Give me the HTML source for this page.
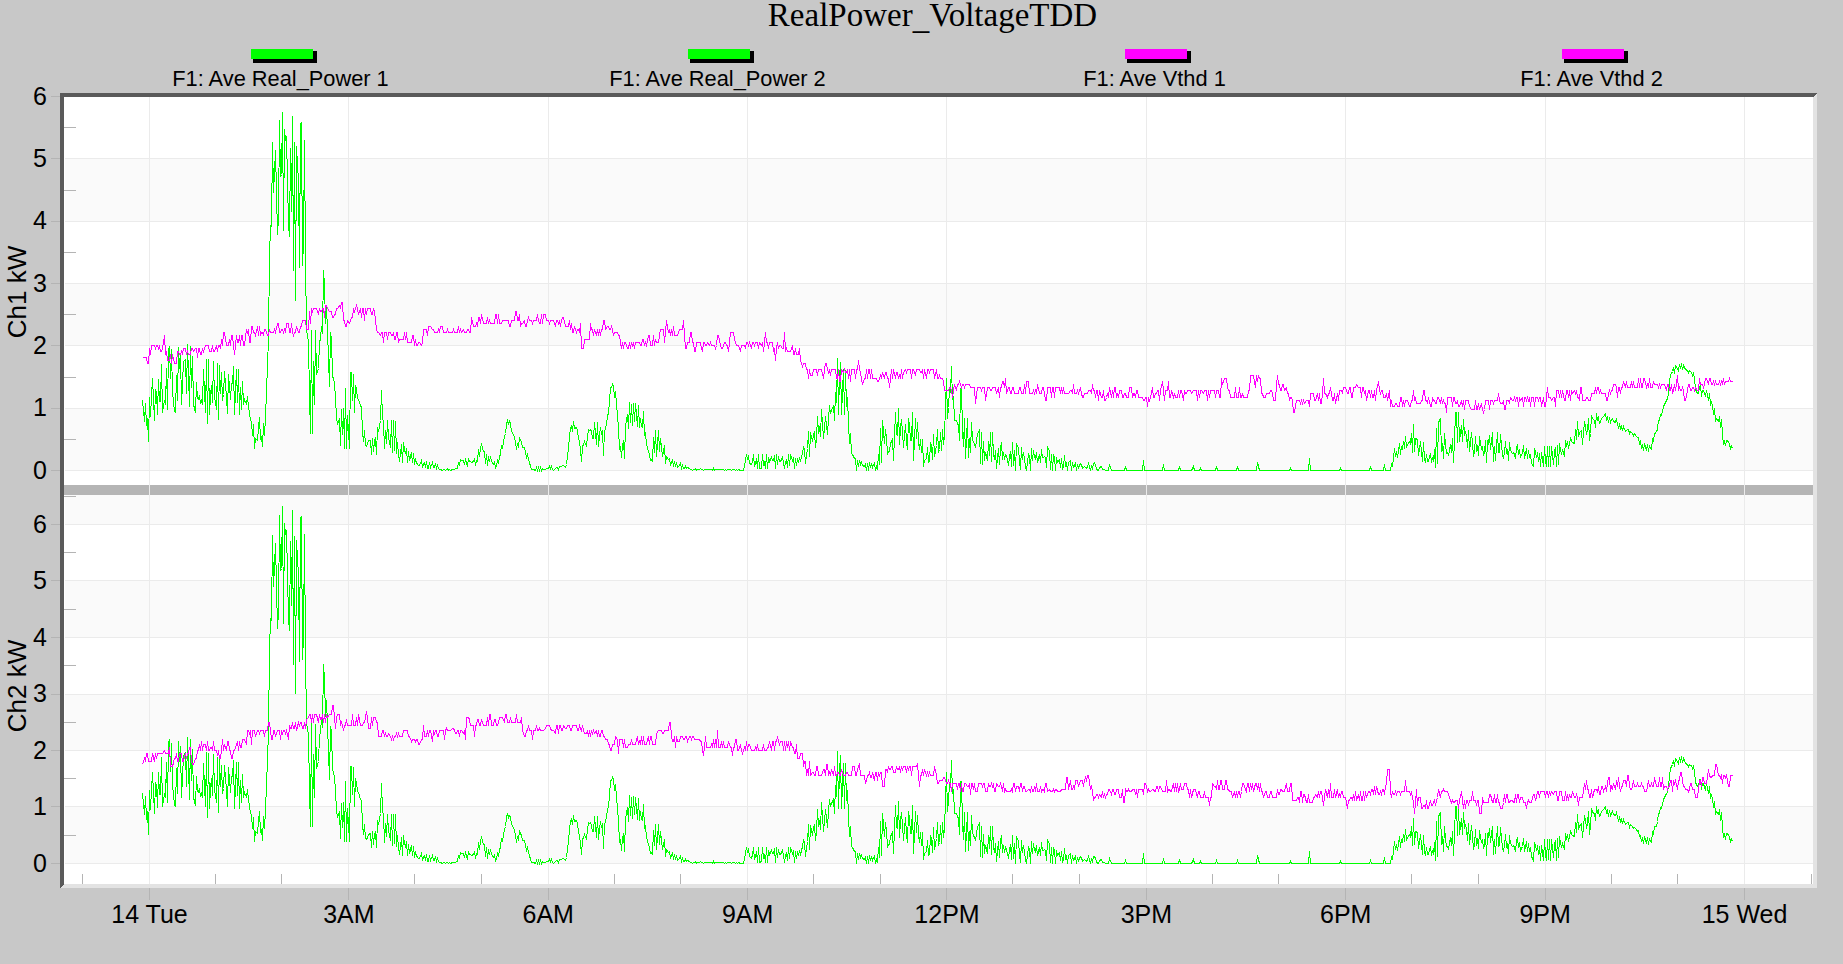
<!DOCTYPE html>
<html><head><meta charset="utf-8"><style>
html,body{margin:0;padding:0;width:1843px;height:964px;overflow:hidden;background:#c8c8c8;}
svg{position:absolute;left:0;top:0;display:block;}
</style></head><body>
<svg width="1843" height="964" viewBox="0 0 1843 964">
<g shape-rendering="crispEdges"><rect x="0" y="0" width="1843" height="964" fill="#c8c8c8"/><rect x="64" y="97" width="1749" height="787" fill="#ffffff"/><rect x="65" y="408.2" width="1748" height="62.3" fill="#fafafa"/><rect x="65" y="283.5" width="1748" height="62.3" fill="#fafafa"/><rect x="65" y="158.9" width="1748" height="62.3" fill="#fafafa"/><rect x="65" y="470" width="1748" height="1" fill="#ebebeb"/><rect x="65" y="408" width="1748" height="1" fill="#ebebeb"/><rect x="65" y="345" width="1748" height="1" fill="#ebebeb"/><rect x="65" y="283" width="1748" height="1" fill="#ebebeb"/><rect x="65" y="221" width="1748" height="1" fill="#ebebeb"/><rect x="65" y="158" width="1748" height="1" fill="#ebebeb"/><rect x="65" y="807.0" width="1748" height="56.5" fill="#fafafa"/><rect x="65" y="694.0" width="1748" height="56.5" fill="#fafafa"/><rect x="65" y="581.0" width="1748" height="56.5" fill="#fafafa"/><rect x="65" y="495.0" width="1748" height="29.5" fill="#fafafa"/><rect x="65" y="863" width="1748" height="1" fill="#ebebeb"/><rect x="65" y="806" width="1748" height="1" fill="#ebebeb"/><rect x="65" y="750" width="1748" height="1" fill="#ebebeb"/><rect x="65" y="694" width="1748" height="1" fill="#ebebeb"/><rect x="65" y="637" width="1748" height="1" fill="#ebebeb"/><rect x="65" y="580" width="1748" height="1" fill="#ebebeb"/><rect x="65" y="524" width="1748" height="1" fill="#ebebeb"/><rect x="149" y="97" width="1" height="787" fill="#ebebeb"/><rect x="348" y="97" width="1" height="787" fill="#ebebeb"/><rect x="548" y="97" width="1" height="787" fill="#ebebeb"/><rect x="747" y="97" width="1" height="787" fill="#ebebeb"/><rect x="946" y="97" width="1" height="787" fill="#ebebeb"/><rect x="1146" y="97" width="1" height="787" fill="#ebebeb"/><rect x="1345" y="97" width="1" height="787" fill="#ebebeb"/><rect x="1545" y="97" width="1" height="787" fill="#ebebeb"/><rect x="1744" y="97" width="1" height="787" fill="#ebebeb"/><rect x="64" y="485" width="1749" height="10" fill="#b5b5b5"/><rect x="149" y="485" width="1" height="10" fill="#ebebeb"/><rect x="348" y="485" width="1" height="10" fill="#ebebeb"/><rect x="548" y="485" width="1" height="10" fill="#ebebeb"/><rect x="747" y="485" width="1" height="10" fill="#ebebeb"/><rect x="946" y="485" width="1" height="10" fill="#ebebeb"/><rect x="1146" y="485" width="1" height="10" fill="#ebebeb"/><rect x="1345" y="485" width="1" height="10" fill="#ebebeb"/><rect x="1545" y="485" width="1" height="10" fill="#ebebeb"/><rect x="1744" y="485" width="1" height="10" fill="#ebebeb"/><rect x="51" y="470" width="9" height="1" fill="#b4b4b4"/><rect x="64" y="439" width="12" height="1" fill="#b4b4b4"/><rect x="51" y="408" width="9" height="1" fill="#b4b4b4"/><rect x="64" y="377" width="12" height="1" fill="#b4b4b4"/><rect x="51" y="345" width="9" height="1" fill="#b4b4b4"/><rect x="64" y="314" width="12" height="1" fill="#b4b4b4"/><rect x="51" y="283" width="9" height="1" fill="#b4b4b4"/><rect x="64" y="252" width="12" height="1" fill="#b4b4b4"/><rect x="51" y="221" width="9" height="1" fill="#b4b4b4"/><rect x="64" y="190" width="12" height="1" fill="#b4b4b4"/><rect x="51" y="158" width="9" height="1" fill="#b4b4b4"/><rect x="64" y="127" width="12" height="1" fill="#b4b4b4"/><rect x="51" y="96" width="9" height="1" fill="#b4b4b4"/><rect x="51" y="863" width="9" height="1" fill="#b4b4b4"/><rect x="64" y="835" width="12" height="1" fill="#b4b4b4"/><rect x="51" y="806" width="9" height="1" fill="#b4b4b4"/><rect x="64" y="778" width="12" height="1" fill="#b4b4b4"/><rect x="51" y="750" width="9" height="1" fill="#b4b4b4"/><rect x="64" y="722" width="12" height="1" fill="#b4b4b4"/><rect x="51" y="694" width="9" height="1" fill="#b4b4b4"/><rect x="64" y="665" width="12" height="1" fill="#b4b4b4"/><rect x="51" y="637" width="9" height="1" fill="#b4b4b4"/><rect x="64" y="609" width="12" height="1" fill="#b4b4b4"/><rect x="51" y="580" width="9" height="1" fill="#b4b4b4"/><rect x="64" y="552" width="12" height="1" fill="#b4b4b4"/><rect x="51" y="524" width="9" height="1" fill="#b4b4b4"/><rect x="64" y="496" width="12" height="1" fill="#b4b4b4"/><rect x="149" y="888" width="1" height="12" fill="#b4b4b4"/><rect x="348" y="888" width="1" height="12" fill="#b4b4b4"/><rect x="548" y="888" width="1" height="12" fill="#b4b4b4"/><rect x="747" y="888" width="1" height="12" fill="#b4b4b4"/><rect x="946" y="888" width="1" height="12" fill="#b4b4b4"/><rect x="1146" y="888" width="1" height="12" fill="#b4b4b4"/><rect x="1345" y="888" width="1" height="12" fill="#b4b4b4"/><rect x="1545" y="888" width="1" height="12" fill="#b4b4b4"/><rect x="1744" y="888" width="1" height="12" fill="#b4b4b4"/><rect x="82" y="874" width="1" height="10" fill="#b4b4b4"/><rect x="215" y="874" width="1" height="10" fill="#b4b4b4"/><rect x="281" y="874" width="1" height="10" fill="#b4b4b4"/><rect x="414" y="874" width="1" height="10" fill="#b4b4b4"/><rect x="481" y="874" width="1" height="10" fill="#b4b4b4"/><rect x="614" y="874" width="1" height="10" fill="#b4b4b4"/><rect x="680" y="874" width="1" height="10" fill="#b4b4b4"/><rect x="813" y="874" width="1" height="10" fill="#b4b4b4"/><rect x="880" y="874" width="1" height="10" fill="#b4b4b4"/><rect x="1012" y="874" width="1" height="10" fill="#b4b4b4"/><rect x="1079" y="874" width="1" height="10" fill="#b4b4b4"/><rect x="1212" y="874" width="1" height="10" fill="#b4b4b4"/><rect x="1278" y="874" width="1" height="10" fill="#b4b4b4"/><rect x="1411" y="874" width="1" height="10" fill="#b4b4b4"/><rect x="1478" y="874" width="1" height="10" fill="#b4b4b4"/><rect x="1611" y="874" width="1" height="10" fill="#b4b4b4"/><rect x="1677" y="874" width="1" height="10" fill="#b4b4b4"/><rect x="1811" y="874" width="1" height="10" fill="#b4b4b4"/><polygon points="60,93 1817,93 1813,97 64,97 64,884 60,888" fill="#5a5a5a"/><polygon points="1817,93 1817,888 60,888 64,884 1813,884 1813,97" fill="#e3e3e3"/></g>
<g><polyline points="142.5,400.5 144.5,421.5 145.5,403.5 146.5,425.5 147.5,418.5 148.5,441.5 149.5,397.5 150.5,416.5 151.5,396.5 152.5,378.5 154.5,420.5 155.5,389.5 156.5,392.5 157.5,414.5 158.5,379.5 159.5,401.5 160.5,401.5 161.5,364.5 162.5,412.5 164.5,400.5 165.5,404.5 166.5,368.5 167.5,409.5 168.5,350.5 169.5,346.5 170.5,378.5 171.5,349.5 172.5,392.5 174.5,411.5 175.5,412.5 176.5,375.5 177.5,400.5 178.5,347.5 179.5,368.5 180.5,353.5 181.5,404.5 182.5,383.5 183.5,361.5 185.5,359.5 186.5,393.5 187.5,344.5 188.5,374.5 189.5,406.5 190.5,346.5 191.5,387.5 192.5,356.5 193.5,404.5 195.5,412.5 196.5,382.5 197.5,398.5 198.5,399.5 199.5,395.5 200.5,403.5 201.5,400.5 202.5,404.5 203.5,369.5 205.5,412.5 206.5,359.5 207.5,423.5 208.5,359.5 209.5,414.5 210.5,395.5 211.5,385.5 212.5,402.5 213.5,361.5 214.5,396.5 216.5,409.5 217.5,363.5 218.5,419.5 219.5,365.5 220.5,393.5 221.5,372.5 222.5,400.5 223.5,394.5 224.5,371.5 226.5,397.5 227.5,413.5 228.5,374.5 229.5,386.5 230.5,399.5 231.5,383.5 232.5,383.5 233.5,366.5 234.5,414.5 236.5,369.5 237.5,402.5 238.5,369.5 239.5,414.5 240.5,387.5 241.5,409.5 242.5,381.5 243.5,404.5 244.5,399.5 246.5,404.5 247.5,396.5 248.5,406.5 249.5,412.5 250.5,420.5 251.5,421.5 252.5,435.5 253.5,424.5 254.5,448.5 255.5,438.5 257.5,440.5 258.5,427.5 259.5,417.5 260.5,439.5 261.5,436.5 262.5,446.5 263.5,423.5 264.5,435.5 265.5,417.5 267.5,365.5 268.5,338.5 269.5,257.5 270.5,225.5 271.5,226.5 272.5,142.5 273.5,192.5 274.5,171.5 275.5,150.5 277.5,234.5 278.5,218.5 279.5,120.5 280.5,176.5 281.5,174.5 282.5,112.5 283.5,230.5 284.5,129.5 285.5,140.5 286.5,136.5 288.5,224.5 289.5,236.5 290.5,148.5 291.5,211.5 292.5,116.5 293.5,270.5 294.5,142.5 295.5,300.5 296.5,146.5 298.5,181.5 299.5,267.5 300.5,123.5 301.5,122.5 302.5,265.5 303.5,242.5 304.5,140.5 305.5,259.5 306.5,330.5 308.5,341.5 309.5,396.5 310.5,433.5 311.5,330.5 312.5,433.5 313.5,361.5 314.5,404.5 315.5,330.5 316.5,374.5 318.5,368.5 319.5,342.5 320.5,338.5 321.5,326.5 322.5,333.5 323.5,270.5 324.5,284.5 325.5,323.5 326.5,307.5 327.5,330.5 329.5,386.5 330.5,332.5 331.5,338.5 332.5,376.5 333.5,378.5 334.5,383.5 335.5,397.5 336.5,417.5 337.5,424.5 339.5,418.5 340.5,445.5 341.5,409.5 342.5,434.5 343.5,408.5 344.5,448.5 345.5,388.5 346.5,448.5 347.5,415.5 349.5,448.5 350.5,372.5 351.5,372.5 352.5,400.5 353.5,374.5 354.5,412.5 355.5,385.5 356.5,388.5 357.5,398.5 358.5,399.5 360.5,405.5 361.5,407.5 362.5,431.5 363.5,441.5 364.5,430.5 365.5,445.5 366.5,446.5 367.5,443.5 368.5,440.5 370.5,440.5 371.5,454.5 372.5,438.5 373.5,451.5 374.5,440.5 375.5,438.5 376.5,454.5 377.5,427.5 378.5,431.5 380.5,420.5 381.5,390.5 382.5,416.5 383.5,422.5 384.5,448.5 385.5,430.5 386.5,443.5 387.5,420.5 388.5,437.5 390.5,447.5 391.5,420.5 392.5,452.5 393.5,420.5 394.5,450.5 395.5,421.5 396.5,453.5 397.5,442.5 398.5,454.5 399.5,461.5 401.5,444.5 402.5,462.5 403.5,442.5 404.5,449.5 405.5,453.5 406.5,448.5 407.5,462.5 408.5,451.5 409.5,460.5 411.5,452.5 412.5,462.5 413.5,453.5 414.5,464.5 415.5,459.5 416.5,462.5 417.5,464.5 418.5,465.5 419.5,465.5 421.5,460.5 422.5,467.5 423.5,463.5 424.5,462.5 425.5,467.5 426.5,461.5 427.5,468.5 428.5,468.5 429.5,462.5 430.5,467.5 432.5,462.5 433.5,467.5 434.5,467.5 435.5,463.5 436.5,468.5 437.5,465.5 438.5,468.5 439.5,469.5 440.5,469.5 442.5,470.5 443.5,469.5 444.5,469.5 445.5,470.5 446.5,469.5 447.5,468.5 448.5,470.5 449.5,469.5 450.5,470.5 452.5,469.5 453.5,469.5 454.5,469.5 455.5,468.5 456.5,468.5 457.5,468.5 458.5,462.5 459.5,465.5 460.5,459.5 461.5,460.5 463.5,460.5 464.5,464.5 465.5,459.5 466.5,462.5 467.5,466.5 468.5,458.5 469.5,461.5 470.5,461.5 471.5,462.5 473.5,461.5 474.5,458.5 475.5,465.5 476.5,460.5 477.5,461.5 478.5,449.5 479.5,456.5 480.5,447.5 481.5,444.5 483.5,451.5 484.5,451.5 485.5,463.5 486.5,454.5 487.5,465.5 488.5,456.5 489.5,461.5 490.5,456.5 491.5,461.5 493.5,464.5 494.5,462.5 495.5,467.5 496.5,465.5 497.5,460.5 498.5,462.5 499.5,457.5 500.5,453.5 501.5,445.5 502.5,448.5 504.5,436.5 505.5,433.5 506.5,424.5 507.5,420.5 508.5,423.5 509.5,421.5 510.5,423.5 511.5,431.5 512.5,432.5 514.5,437.5 515.5,442.5 516.5,449.5 517.5,443.5 518.5,447.5 519.5,437.5 520.5,440.5 521.5,441.5 522.5,447.5 524.5,447.5 525.5,452.5 526.5,457.5 527.5,454.5 528.5,459.5 529.5,462.5 530.5,466.5 531.5,469.5 532.5,469.5 533.5,469.5 535.5,470.5 536.5,467.5 537.5,470.5 538.5,467.5 539.5,470.5 540.5,467.5 541.5,470.5 542.5,468.5 543.5,469.5 545.5,469.5 546.5,468.5 547.5,468.5 548.5,468.5 549.5,466.5 550.5,468.5 551.5,466.5 552.5,469.5 553.5,470.5 555.5,468.5 556.5,467.5 557.5,467.5 558.5,469.5 559.5,466.5 560.5,466.5 561.5,466.5 562.5,465.5 563.5,465.5 565.5,467.5 566.5,464.5 567.5,455.5 568.5,448.5 569.5,436.5 570.5,428.5 571.5,425.5 572.5,431.5 573.5,421.5 574.5,428.5 576.5,427.5 577.5,430.5 578.5,438.5 579.5,441.5 580.5,450.5 581.5,461.5 582.5,446.5 583.5,444.5 584.5,441.5 586.5,446.5 587.5,436.5 588.5,429.5 589.5,430.5 590.5,429.5 591.5,431.5 592.5,438.5 593.5,438.5 594.5,422.5 596.5,444.5 597.5,422.5 598.5,446.5 599.5,435.5 600.5,427.5 601.5,434.5 602.5,430.5 603.5,455.5 604.5,430.5 605.5,429.5 607.5,416.5 608.5,412.5 609.5,401.5 610.5,387.5 611.5,387.5 612.5,384.5 613.5,386.5 614.5,397.5 615.5,391.5 617.5,415.5 618.5,428.5 619.5,449.5 620.5,446.5 621.5,457.5 622.5,445.5 623.5,440.5 624.5,458.5 625.5,426.5 627.5,414.5 628.5,428.5 629.5,402.5 630.5,422.5 631.5,404.5 632.5,425.5 633.5,403.5 634.5,421.5 635.5,403.5 637.5,426.5 638.5,405.5 639.5,427.5 640.5,418.5 641.5,426.5 642.5,427.5 643.5,411.5 644.5,435.5 645.5,432.5 646.5,444.5 648.5,451.5 649.5,454.5 650.5,460.5 651.5,459.5 652.5,461.5 653.5,437.5 654.5,452.5 655.5,430.5 656.5,456.5 658.5,430.5 659.5,451.5 660.5,438.5 661.5,446.5 662.5,456.5 663.5,451.5 664.5,445.5 665.5,463.5 666.5,456.5 668.5,459.5 669.5,458.5 670.5,464.5 671.5,462.5 672.5,459.5 673.5,466.5 674.5,461.5 675.5,466.5 676.5,462.5 677.5,467.5 679.5,465.5 680.5,463.5 681.5,468.5 682.5,465.5 683.5,468.5 684.5,468.5 685.5,466.5 686.5,468.5 687.5,467.5 689.5,468.5 690.5,469.5 691.5,469.5 692.5,470.5 693.5,469.5 694.5,469.5 695.5,468.5 696.5,470.5 697.5,469.5 699.5,469.5 700.5,468.5 701.5,469.5 702.5,469.5 703.5,470.5 704.5,469.5 705.5,469.5 706.5,469.5 707.5,469.5 709.5,469.5 710.5,469.5 711.5,469.5 712.5,470.5 713.5,468.5 714.5,470.5 715.5,469.5 716.5,469.5 717.5,469.5 718.5,469.5 720.5,469.5 721.5,469.5 722.5,469.5 723.5,469.5 724.5,470.5 725.5,469.5 726.5,470.5 727.5,469.5 728.5,469.5 730.5,469.5 731.5,470.5 732.5,469.5 733.5,469.5 734.5,469.5 735.5,470.5 736.5,469.5 737.5,470.5 738.5,469.5 740.5,470.5 741.5,470.5 742.5,470.5 743.5,470.5 744.5,465.5 745.5,460.5 746.5,454.5 747.5,459.5 748.5,455.5 749.5,463.5 751.5,464.5 752.5,461.5 753.5,454.5 754.5,466.5 755.5,463.5 756.5,458.5 757.5,468.5 758.5,454.5 759.5,468.5 761.5,468.5 762.5,454.5 763.5,464.5 764.5,462.5 765.5,468.5 766.5,454.5 767.5,468.5 768.5,457.5 769.5,461.5 771.5,457.5 772.5,460.5 773.5,460.5 774.5,455.5 775.5,468.5 776.5,454.5 777.5,464.5 778.5,456.5 779.5,461.5 780.5,461.5 782.5,457.5 783.5,462.5 784.5,468.5 785.5,462.5 786.5,459.5 787.5,467.5 788.5,454.5 789.5,465.5 790.5,454.5 792.5,460.5 793.5,457.5 794.5,468.5 795.5,458.5 796.5,465.5 797.5,458.5 798.5,461.5 799.5,458.5 800.5,460.5 802.5,453.5 803.5,447.5 804.5,449.5 805.5,463.5 806.5,455.5 807.5,448.5 808.5,431.5 809.5,456.5 810.5,432.5 812.5,441.5 813.5,434.5 814.5,431.5 815.5,447.5 816.5,438.5 817.5,416.5 818.5,433.5 819.5,426.5 820.5,436.5 821.5,409.5 823.5,438.5 824.5,427.5 825.5,416.5 826.5,424.5 827.5,434.5 828.5,418.5 829.5,405.5 830.5,413.5 831.5,410.5 833.5,405.5 834.5,420.5 835.5,392.5 836.5,402.5 837.5,358.5 838.5,414.5 839.5,377.5 840.5,362.5 841.5,414.5 843.5,369.5 844.5,414.5 845.5,370.5 846.5,406.5 847.5,397.5 848.5,423.5 849.5,443.5 850.5,433.5 851.5,453.5 852.5,454.5 854.5,458.5 855.5,458.5 856.5,470.5 857.5,460.5 858.5,466.5 859.5,460.5 860.5,464.5 861.5,462.5 862.5,465.5 864.5,466.5 865.5,464.5 866.5,470.5 867.5,463.5 868.5,470.5 869.5,462.5 870.5,467.5 871.5,463.5 872.5,467.5 874.5,462.5 875.5,470.5 876.5,466.5 877.5,468.5 878.5,454.5 879.5,464.5 880.5,428.5 881.5,462.5 882.5,420.5 884.5,443.5 885.5,429.5 886.5,438.5 887.5,453.5 888.5,451.5 889.5,451.5 890.5,442.5 891.5,442.5 892.5,438.5 893.5,460.5 895.5,412.5 896.5,434.5 897.5,435.5 898.5,408.5 899.5,444.5 900.5,427.5 901.5,419.5 902.5,431.5 903.5,447.5 905.5,424.5 906.5,441.5 907.5,449.5 908.5,418.5 909.5,425.5 910.5,440.5 911.5,440.5 912.5,412.5 913.5,460.5 915.5,418.5 916.5,438.5 917.5,422.5 918.5,441.5 919.5,449.5 920.5,439.5 921.5,452.5 922.5,439.5 923.5,466.5 924.5,460.5 926.5,458.5 927.5,447.5 928.5,462.5 929.5,461.5 930.5,442.5 931.5,445.5 932.5,459.5 933.5,434.5 934.5,456.5 936.5,445.5 937.5,429.5 938.5,451.5 939.5,449.5 940.5,432.5 941.5,450.5 942.5,429.5 943.5,444.5 944.5,435.5 946.5,378.5 947.5,418.5 948.5,407.5 949.5,389.5 950.5,392.5 951.5,366.5 952.5,399.5 953.5,396.5 954.5,420.5 956.5,420.5 957.5,423.5 958.5,425.5 959.5,440.5 960.5,388.5 961.5,388.5 962.5,430.5 963.5,446.5 964.5,418.5 965.5,458.5 967.5,418.5 968.5,457.5 969.5,438.5 970.5,452.5 971.5,422.5 972.5,439.5 973.5,442.5 974.5,443.5 975.5,447.5 977.5,433.5 978.5,432.5 979.5,429.5 980.5,463.5 981.5,432.5 982.5,464.5 983.5,441.5 984.5,460.5 985.5,452.5 987.5,460.5 988.5,441.5 989.5,455.5 990.5,432.5 991.5,461.5 992.5,432.5 993.5,454.5 994.5,459.5 995.5,450.5 996.5,468.5 998.5,448.5 999.5,464.5 1000.5,448.5 1001.5,442.5 1002.5,459.5 1003.5,452.5 1004.5,459.5 1005.5,454.5 1006.5,455.5 1008.5,465.5 1009.5,457.5 1010.5,451.5 1011.5,466.5 1012.5,442.5 1013.5,465.5 1014.5,450.5 1015.5,470.5 1016.5,443.5 1018.5,448.5 1019.5,461.5 1020.5,469.5 1021.5,447.5 1022.5,459.5 1023.5,452.5 1024.5,458.5 1025.5,467.5 1026.5,469.5 1028.5,454.5 1029.5,456.5 1030.5,470.5 1031.5,448.5 1032.5,460.5 1033.5,450.5 1034.5,456.5 1035.5,458.5 1036.5,452.5 1037.5,462.5 1039.5,454.5 1040.5,462.5 1041.5,449.5 1042.5,457.5 1043.5,457.5 1044.5,456.5 1045.5,457.5 1046.5,467.5 1047.5,446.5 1049.5,451.5 1050.5,469.5 1051.5,454.5 1052.5,470.5 1053.5,454.5 1054.5,457.5 1055.5,470.5 1056.5,457.5 1057.5,462.5 1059.5,459.5 1060.5,467.5 1061.5,458.5 1062.5,468.5 1063.5,466.5 1064.5,455.5 1065.5,465.5 1066.5,463.5 1067.5,470.5 1068.5,462.5 1070.5,460.5 1071.5,470.5 1072.5,462.5 1073.5,467.5 1074.5,466.5 1075.5,462.5 1076.5,470.5 1077.5,464.5 1078.5,467.5 1080.5,463.5 1081.5,464.5 1082.5,468.5 1083.5,467.5 1084.5,466.5 1085.5,467.5 1086.5,468.5 1087.5,466.5 1088.5,463.5 1090.5,470.5 1091.5,465.5 1092.5,469.5 1093.5,463.5 1094.5,462.5 1095.5,465.5 1096.5,468.5 1097.5,470.5 1098.5,470.5 1099.5,467.5 1101.5,466.5 1102.5,469.5 1103.5,469.5 1104.5,469.5 1105.5,470.5 1106.5,470.5 1107.5,470.5 1108.5,470.5 1109.5,464.5 1111.5,470.5 1112.5,470.5 1113.5,470.5 1114.5,470.5 1115.5,470.5 1116.5,470.5 1117.5,470.5 1118.5,470.5 1119.5,470.5 1121.5,470.5 1122.5,470.5 1123.5,470.5 1124.5,470.5 1125.5,466.5 1126.5,470.5 1127.5,470.5 1128.5,470.5 1129.5,470.5 1131.5,470.5 1132.5,470.5 1133.5,470.5 1134.5,470.5 1135.5,470.5 1136.5,470.5 1137.5,470.5 1138.5,470.5 1139.5,470.5 1140.5,470.5 1142.5,470.5 1143.5,460.5 1144.5,470.5 1145.5,470.5 1146.5,470.5 1147.5,470.5 1148.5,470.5 1149.5,470.5 1150.5,470.5 1152.5,470.5 1153.5,470.5 1154.5,470.5 1155.5,470.5 1156.5,470.5 1157.5,470.5 1158.5,470.5 1159.5,470.5 1160.5,470.5 1162.5,470.5 1163.5,464.5 1164.5,470.5 1165.5,470.5 1166.5,470.5 1167.5,470.5 1168.5,470.5 1169.5,470.5 1170.5,470.5 1171.5,470.5 1173.5,470.5 1174.5,470.5 1175.5,470.5 1176.5,470.5 1177.5,470.5 1178.5,470.5 1179.5,466.5 1180.5,470.5 1181.5,470.5 1183.5,470.5 1184.5,470.5 1185.5,470.5 1186.5,470.5 1187.5,470.5 1188.5,470.5 1189.5,470.5 1190.5,470.5 1191.5,470.5 1193.5,466.5 1194.5,470.5 1195.5,470.5 1196.5,470.5 1197.5,470.5 1198.5,470.5 1199.5,470.5 1200.5,468.5 1201.5,470.5 1203.5,470.5 1204.5,470.5 1205.5,470.5 1206.5,470.5 1207.5,470.5 1208.5,470.5 1209.5,470.5 1210.5,470.5 1211.5,470.5 1212.5,470.5 1214.5,470.5 1215.5,470.5 1216.5,466.5 1217.5,470.5 1218.5,470.5 1219.5,470.5 1220.5,470.5 1221.5,470.5 1222.5,470.5 1224.5,470.5 1225.5,470.5 1226.5,470.5 1227.5,470.5 1228.5,470.5 1229.5,470.5 1230.5,470.5 1231.5,470.5 1232.5,470.5 1234.5,470.5 1235.5,470.5 1236.5,470.5 1237.5,466.5 1238.5,470.5 1239.5,470.5 1240.5,470.5 1241.5,470.5 1242.5,470.5 1243.5,470.5 1245.5,470.5 1246.5,470.5 1247.5,470.5 1248.5,470.5 1249.5,470.5 1250.5,470.5 1251.5,470.5 1252.5,470.5 1253.5,470.5 1255.5,470.5 1256.5,470.5 1257.5,462.5 1258.5,466.5 1259.5,470.5 1260.5,470.5 1261.5,470.5 1262.5,470.5 1263.5,470.5 1265.5,470.5 1266.5,470.5 1267.5,470.5 1268.5,470.5 1269.5,470.5 1270.5,470.5 1271.5,470.5 1272.5,470.5 1273.5,470.5 1275.5,470.5 1276.5,470.5 1277.5,470.5 1278.5,470.5 1279.5,470.5 1280.5,470.5 1281.5,470.5 1282.5,470.5 1283.5,470.5 1284.5,470.5 1286.5,470.5 1287.5,470.5 1288.5,470.5 1289.5,470.5 1290.5,468.5 1291.5,470.5 1292.5,470.5 1293.5,470.5 1294.5,470.5 1296.5,470.5 1297.5,470.5 1298.5,470.5 1299.5,470.5 1300.5,470.5 1301.5,470.5 1302.5,470.5 1303.5,470.5 1304.5,470.5 1306.5,470.5 1307.5,470.5 1308.5,470.5 1309.5,458.5 1310.5,470.5 1311.5,470.5 1312.5,470.5 1313.5,470.5 1314.5,470.5 1315.5,470.5 1317.5,470.5 1318.5,470.5 1319.5,470.5 1320.5,470.5 1321.5,470.5 1322.5,470.5 1323.5,470.5 1324.5,470.5 1325.5,470.5 1327.5,470.5 1328.5,470.5 1329.5,470.5 1330.5,470.5 1331.5,470.5 1332.5,470.5 1333.5,470.5 1334.5,470.5 1335.5,470.5 1337.5,470.5 1338.5,470.5 1339.5,470.5 1340.5,468.5 1341.5,470.5 1342.5,470.5 1343.5,470.5 1344.5,470.5 1345.5,470.5 1347.5,470.5 1348.5,470.5 1349.5,470.5 1350.5,470.5 1351.5,470.5 1352.5,470.5 1353.5,470.5 1354.5,470.5 1355.5,470.5 1356.5,470.5 1358.5,470.5 1359.5,470.5 1360.5,470.5 1361.5,470.5 1362.5,470.5 1363.5,470.5 1364.5,470.5 1365.5,470.5 1366.5,470.5 1368.5,470.5 1369.5,470.5 1370.5,466.5 1371.5,470.5 1372.5,470.5 1373.5,470.5 1374.5,470.5 1375.5,470.5 1376.5,470.5 1378.5,470.5 1379.5,470.5 1380.5,470.5 1381.5,470.5 1382.5,470.5 1383.5,470.5 1384.5,464.5 1385.5,470.5 1386.5,470.5 1387.5,470.5 1389.5,470.5 1390.5,470.5 1391.5,463.5 1392.5,466.5 1393.5,457.5 1394.5,448.5 1395.5,456.5 1396.5,451.5 1397.5,457.5 1399.5,443.5 1400.5,454.5 1401.5,446.5 1402.5,449.5 1403.5,441.5 1404.5,448.5 1405.5,436.5 1406.5,447.5 1407.5,444.5 1409.5,441.5 1410.5,443.5 1411.5,433.5 1412.5,452.5 1413.5,424.5 1414.5,451.5 1415.5,438.5 1416.5,438.5 1417.5,440.5 1418.5,455.5 1420.5,441.5 1421.5,451.5 1422.5,461.5 1423.5,442.5 1424.5,459.5 1425.5,462.5 1426.5,454.5 1427.5,461.5 1428.5,461.5 1430.5,453.5 1431.5,462.5 1432.5,457.5 1433.5,461.5 1434.5,449.5 1435.5,467.5 1436.5,428.5 1437.5,463.5 1438.5,422.5 1440.5,418.5 1441.5,451.5 1442.5,443.5 1443.5,458.5 1444.5,433.5 1445.5,444.5 1446.5,453.5 1447.5,452.5 1448.5,455.5 1450.5,444.5 1451.5,452.5 1452.5,438.5 1453.5,462.5 1454.5,440.5 1455.5,412.5 1456.5,412.5 1457.5,442.5 1458.5,412.5 1459.5,441.5 1461.5,425.5 1462.5,441.5 1463.5,419.5 1464.5,434.5 1465.5,432.5 1466.5,435.5 1467.5,447.5 1468.5,430.5 1469.5,451.5 1471.5,432.5 1472.5,442.5 1473.5,456.5 1474.5,451.5 1475.5,436.5 1476.5,451.5 1477.5,445.5 1478.5,455.5 1479.5,436.5 1481.5,449.5 1482.5,446.5 1483.5,455.5 1484.5,452.5 1485.5,440.5 1486.5,462.5 1487.5,441.5 1488.5,443.5 1489.5,435.5 1490.5,449.5 1492.5,432.5 1493.5,461.5 1494.5,446.5 1495.5,460.5 1496.5,446.5 1497.5,432.5 1498.5,452.5 1499.5,452.5 1500.5,434.5 1502.5,455.5 1503.5,458.5 1504.5,452.5 1505.5,441.5 1506.5,453.5 1507.5,449.5 1508.5,460.5 1509.5,442.5 1510.5,450.5 1512.5,453.5 1513.5,452.5 1514.5,454.5 1515.5,458.5 1516.5,447.5 1517.5,444.5 1518.5,454.5 1519.5,449.5 1520.5,457.5 1522.5,452.5 1523.5,445.5 1524.5,458.5 1525.5,453.5 1526.5,448.5 1527.5,458.5 1528.5,450.5 1529.5,457.5 1530.5,454.5 1531.5,463.5 1533.5,466.5 1534.5,449.5 1535.5,451.5 1536.5,457.5 1537.5,452.5 1538.5,461.5 1539.5,453.5 1540.5,466.5 1541.5,452.5 1543.5,466.5 1544.5,446.5 1545.5,461.5 1546.5,466.5 1547.5,446.5 1548.5,466.5 1549.5,446.5 1550.5,466.5 1551.5,446.5 1553.5,464.5 1554.5,451.5 1555.5,447.5 1556.5,466.5 1557.5,445.5 1558.5,464.5 1559.5,443.5 1560.5,449.5 1561.5,454.5 1562.5,449.5 1564.5,456.5 1565.5,440.5 1566.5,445.5 1567.5,442.5 1568.5,447.5 1569.5,444.5 1570.5,437.5 1571.5,441.5 1572.5,442.5 1574.5,443.5 1575.5,429.5 1576.5,439.5 1577.5,421.5 1578.5,436.5 1579.5,432.5 1580.5,431.5 1581.5,430.5 1582.5,444.5 1584.5,421.5 1585.5,426.5 1586.5,434.5 1587.5,429.5 1588.5,418.5 1589.5,440.5 1590.5,433.5 1591.5,415.5 1592.5,418.5 1594.5,420.5 1595.5,427.5 1596.5,413.5 1597.5,419.5 1598.5,417.5 1599.5,423.5 1600.5,422.5 1601.5,418.5 1602.5,417.5 1603.5,416.5 1605.5,413.5 1606.5,419.5 1607.5,417.5 1608.5,422.5 1609.5,417.5 1610.5,422.5 1611.5,419.5 1612.5,418.5 1613.5,421.5 1615.5,422.5 1616.5,418.5 1617.5,424.5 1618.5,427.5 1619.5,424.5 1620.5,428.5 1621.5,426.5 1622.5,430.5 1623.5,426.5 1625.5,431.5 1626.5,430.5 1627.5,429.5 1628.5,429.5 1629.5,433.5 1630.5,431.5 1631.5,432.5 1632.5,433.5 1633.5,435.5 1634.5,433.5 1636.5,436.5 1637.5,437.5 1638.5,437.5 1639.5,443.5 1640.5,441.5 1641.5,448.5 1642.5,444.5 1643.5,450.5 1644.5,443.5 1646.5,450.5 1647.5,444.5 1648.5,451.5 1649.5,445.5 1650.5,448.5 1651.5,449.5 1652.5,438.5 1653.5,441.5 1654.5,433.5 1656.5,432.5 1657.5,428.5 1658.5,420.5 1659.5,420.5 1660.5,414.5 1661.5,415.5 1662.5,411.5 1663.5,406.5 1664.5,404.5 1666.5,400.5 1667.5,398.5 1668.5,393.5 1669.5,382.5 1670.5,374.5 1671.5,373.5 1672.5,371.5 1673.5,367.5 1674.5,373.5 1675.5,365.5 1677.5,368.5 1678.5,370.5 1679.5,364.5 1680.5,368.5 1681.5,363.5 1682.5,369.5 1683.5,365.5 1684.5,367.5 1685.5,369.5 1687.5,370.5 1688.5,372.5 1689.5,370.5 1690.5,371.5 1691.5,372.5 1692.5,375.5 1693.5,373.5 1694.5,378.5 1695.5,389.5 1697.5,393.5 1698.5,393.5 1699.5,386.5 1700.5,385.5 1701.5,396.5 1702.5,390.5 1703.5,390.5 1704.5,393.5 1705.5,396.5 1706.5,390.5 1708.5,400.5 1709.5,393.5 1710.5,404.5 1711.5,402.5 1712.5,405.5 1713.5,414.5 1714.5,408.5 1715.5,421.5 1716.5,418.5 1718.5,421.5 1719.5,416.5 1720.5,427.5 1721.5,419.5 1722.5,434.5 1723.5,444.5 1724.5,441.5 1725.5,445.5 1726.5,440.5 1728.5,441.5 1729.5,444.5 1730.5,448.5 1731.5,446.5 1732.5,448.5" fill="none" stroke="#00ff00" stroke-width="1" shape-rendering="crispEdges"/><polyline points="142.5,357.5 144.5,357.5 145.5,357.5 146.5,357.5 147.5,363.5 148.5,363.5 149.5,348.5 150.5,354.5 151.5,345.5 152.5,345.5 154.5,345.5 155.5,348.5 156.5,345.5 157.5,345.5 158.5,348.5 159.5,345.5 160.5,351.5 161.5,351.5 162.5,348.5 164.5,335.5 165.5,354.5 166.5,351.5 167.5,360.5 168.5,360.5 169.5,360.5 170.5,354.5 171.5,363.5 172.5,354.5 174.5,363.5 175.5,363.5 176.5,363.5 177.5,351.5 178.5,351.5 179.5,354.5 180.5,354.5 181.5,351.5 182.5,354.5 183.5,348.5 185.5,348.5 186.5,354.5 187.5,351.5 188.5,354.5 189.5,354.5 190.5,354.5 191.5,348.5 192.5,348.5 193.5,351.5 195.5,348.5 196.5,348.5 197.5,357.5 198.5,348.5 199.5,348.5 200.5,354.5 201.5,354.5 202.5,348.5 203.5,351.5 205.5,345.5 206.5,345.5 207.5,345.5 208.5,345.5 209.5,351.5 210.5,351.5 211.5,351.5 212.5,345.5 213.5,351.5 214.5,351.5 216.5,345.5 217.5,351.5 218.5,345.5 219.5,345.5 220.5,348.5 221.5,339.5 222.5,345.5 223.5,332.5 224.5,332.5 226.5,345.5 227.5,345.5 228.5,345.5 229.5,339.5 230.5,345.5 231.5,335.5 232.5,335.5 233.5,345.5 234.5,354.5 236.5,335.5 237.5,342.5 238.5,342.5 239.5,335.5 240.5,345.5 241.5,335.5 242.5,335.5 243.5,345.5 244.5,345.5 246.5,329.5 247.5,332.5 248.5,329.5 249.5,342.5 250.5,342.5 251.5,326.5 252.5,326.5 253.5,332.5 254.5,332.5 255.5,335.5 257.5,326.5 258.5,335.5 259.5,326.5 260.5,335.5 261.5,332.5 262.5,332.5 263.5,335.5 264.5,329.5 265.5,329.5 267.5,335.5 268.5,335.5 269.5,329.5 270.5,332.5 271.5,332.5 272.5,332.5 273.5,332.5 274.5,329.5 275.5,332.5 277.5,323.5 278.5,323.5 279.5,332.5 280.5,332.5 281.5,329.5 282.5,329.5 283.5,332.5 284.5,329.5 285.5,332.5 286.5,323.5 288.5,323.5 289.5,332.5 290.5,332.5 291.5,323.5 292.5,332.5 293.5,335.5 294.5,332.5 295.5,332.5 296.5,326.5 298.5,332.5 299.5,332.5 300.5,326.5 301.5,326.5 302.5,320.5 303.5,320.5 304.5,320.5 305.5,320.5 306.5,329.5 308.5,329.5 309.5,311.5 310.5,323.5 311.5,308.5 312.5,311.5 313.5,308.5 314.5,308.5 315.5,308.5 316.5,308.5 318.5,314.5 319.5,308.5 320.5,311.5 321.5,311.5 322.5,308.5 323.5,308.5 324.5,317.5 325.5,305.5 326.5,305.5 327.5,308.5 329.5,311.5 330.5,311.5 331.5,311.5 332.5,317.5 333.5,317.5 334.5,314.5 335.5,314.5 336.5,308.5 337.5,308.5 339.5,305.5 340.5,308.5 341.5,302.5 342.5,302.5 343.5,320.5 344.5,320.5 345.5,326.5 346.5,326.5 347.5,320.5 349.5,323.5 350.5,320.5 351.5,317.5 352.5,317.5 353.5,308.5 354.5,311.5 355.5,308.5 356.5,305.5 357.5,308.5 358.5,314.5 360.5,308.5 361.5,317.5 362.5,308.5 363.5,308.5 364.5,320.5 365.5,308.5 366.5,314.5 367.5,308.5 368.5,308.5 370.5,308.5 371.5,314.5 372.5,314.5 373.5,308.5 374.5,311.5 375.5,320.5 376.5,329.5 377.5,332.5 378.5,332.5 380.5,335.5 381.5,332.5 382.5,332.5 383.5,342.5 384.5,332.5 385.5,332.5 386.5,332.5 387.5,339.5 388.5,332.5 390.5,332.5 391.5,335.5 392.5,335.5 393.5,332.5 394.5,339.5 395.5,339.5 396.5,332.5 397.5,332.5 398.5,342.5 399.5,339.5 401.5,339.5 402.5,339.5 403.5,339.5 404.5,332.5 405.5,339.5 406.5,332.5 407.5,342.5 408.5,342.5 409.5,342.5 411.5,342.5 412.5,335.5 413.5,335.5 414.5,345.5 415.5,339.5 416.5,345.5 417.5,345.5 418.5,342.5 419.5,342.5 421.5,345.5 422.5,342.5 423.5,329.5 424.5,329.5 425.5,329.5 426.5,329.5 427.5,335.5 428.5,326.5 429.5,326.5 430.5,326.5 432.5,329.5 433.5,329.5 434.5,332.5 435.5,332.5 436.5,332.5 437.5,332.5 438.5,329.5 439.5,332.5 440.5,326.5 442.5,326.5 443.5,332.5 444.5,332.5 445.5,332.5 446.5,332.5 447.5,329.5 448.5,332.5 449.5,332.5 450.5,332.5 452.5,332.5 453.5,329.5 454.5,332.5 455.5,332.5 456.5,332.5 457.5,332.5 458.5,326.5 459.5,332.5 460.5,329.5 461.5,332.5 463.5,329.5 464.5,332.5 465.5,332.5 466.5,332.5 467.5,329.5 468.5,329.5 469.5,332.5 470.5,332.5 471.5,317.5 473.5,326.5 474.5,326.5 475.5,326.5 476.5,323.5 477.5,326.5 478.5,317.5 479.5,317.5 480.5,323.5 481.5,314.5 483.5,323.5 484.5,323.5 485.5,323.5 486.5,323.5 487.5,317.5 488.5,323.5 489.5,320.5 490.5,323.5 491.5,323.5 493.5,323.5 494.5,323.5 495.5,314.5 496.5,314.5 497.5,323.5 498.5,314.5 499.5,323.5 500.5,323.5 501.5,323.5 502.5,320.5 504.5,320.5 505.5,320.5 506.5,320.5 507.5,320.5 508.5,320.5 509.5,326.5 510.5,326.5 511.5,320.5 512.5,320.5 514.5,320.5 515.5,311.5 516.5,311.5 517.5,320.5 518.5,320.5 519.5,314.5 520.5,326.5 521.5,323.5 522.5,323.5 524.5,320.5 525.5,326.5 526.5,326.5 527.5,320.5 528.5,317.5 529.5,320.5 530.5,320.5 531.5,320.5 532.5,323.5 533.5,320.5 535.5,320.5 536.5,320.5 537.5,314.5 538.5,320.5 539.5,323.5 540.5,323.5 541.5,314.5 542.5,323.5 543.5,314.5 545.5,314.5 546.5,320.5 547.5,320.5 548.5,320.5 549.5,323.5 550.5,320.5 551.5,320.5 552.5,320.5 553.5,320.5 555.5,326.5 556.5,320.5 557.5,320.5 558.5,323.5 559.5,320.5 560.5,326.5 561.5,320.5 562.5,317.5 563.5,317.5 565.5,326.5 566.5,326.5 567.5,326.5 568.5,326.5 569.5,320.5 570.5,329.5 571.5,323.5 572.5,332.5 573.5,332.5 574.5,326.5 576.5,332.5 577.5,329.5 578.5,329.5 579.5,332.5 580.5,323.5 581.5,348.5 582.5,348.5 583.5,348.5 584.5,339.5 586.5,339.5 587.5,339.5 588.5,339.5 589.5,339.5 590.5,323.5 591.5,329.5 592.5,329.5 593.5,335.5 594.5,329.5 596.5,335.5 597.5,329.5 598.5,335.5 599.5,329.5 600.5,335.5 601.5,329.5 602.5,329.5 603.5,320.5 604.5,320.5 605.5,329.5 607.5,326.5 608.5,326.5 609.5,329.5 610.5,329.5 611.5,326.5 612.5,329.5 613.5,335.5 614.5,332.5 615.5,332.5 617.5,332.5 618.5,335.5 619.5,335.5 620.5,342.5 621.5,348.5 622.5,342.5 623.5,348.5 624.5,342.5 625.5,342.5 627.5,348.5 628.5,348.5 629.5,342.5 630.5,348.5 631.5,342.5 632.5,345.5 633.5,342.5 634.5,348.5 635.5,342.5 637.5,342.5 638.5,342.5 639.5,342.5 640.5,345.5 641.5,345.5 642.5,339.5 643.5,339.5 644.5,345.5 645.5,342.5 646.5,345.5 648.5,335.5 649.5,335.5 650.5,345.5 651.5,345.5 652.5,345.5 653.5,335.5 654.5,345.5 655.5,339.5 656.5,342.5 658.5,342.5 659.5,335.5 660.5,329.5 661.5,329.5 662.5,329.5 663.5,329.5 664.5,342.5 665.5,332.5 666.5,320.5 668.5,332.5 669.5,329.5 670.5,335.5 671.5,329.5 672.5,335.5 673.5,326.5 674.5,335.5 675.5,335.5 676.5,335.5 677.5,335.5 679.5,329.5 680.5,329.5 681.5,329.5 682.5,329.5 683.5,320.5 684.5,335.5 685.5,348.5 686.5,348.5 687.5,342.5 689.5,342.5 690.5,332.5 691.5,332.5 692.5,342.5 693.5,342.5 694.5,351.5 695.5,351.5 696.5,342.5 697.5,342.5 699.5,342.5 700.5,342.5 701.5,348.5 702.5,351.5 703.5,342.5 704.5,342.5 705.5,345.5 706.5,345.5 707.5,342.5 709.5,345.5 710.5,342.5 711.5,345.5 712.5,345.5 713.5,345.5 714.5,345.5 715.5,348.5 716.5,345.5 717.5,335.5 718.5,335.5 720.5,345.5 721.5,348.5 722.5,348.5 723.5,345.5 724.5,342.5 725.5,342.5 726.5,345.5 727.5,345.5 728.5,351.5 730.5,332.5 731.5,332.5 732.5,332.5 733.5,332.5 734.5,339.5 735.5,342.5 736.5,345.5 737.5,345.5 738.5,345.5 740.5,351.5 741.5,345.5 742.5,345.5 743.5,345.5 744.5,345.5 745.5,348.5 746.5,342.5 747.5,342.5 748.5,345.5 749.5,342.5 751.5,348.5 752.5,342.5 753.5,342.5 754.5,345.5 755.5,342.5 756.5,342.5 757.5,342.5 758.5,348.5 759.5,342.5 761.5,345.5 762.5,342.5 763.5,351.5 764.5,342.5 765.5,332.5 766.5,342.5 767.5,342.5 768.5,348.5 769.5,342.5 771.5,342.5 772.5,342.5 773.5,351.5 774.5,348.5 775.5,360.5 776.5,348.5 777.5,342.5 778.5,348.5 779.5,345.5 780.5,345.5 782.5,348.5 783.5,348.5 784.5,332.5 785.5,351.5 786.5,348.5 787.5,351.5 788.5,351.5 789.5,351.5 790.5,351.5 792.5,345.5 793.5,354.5 794.5,354.5 795.5,348.5 796.5,354.5 797.5,354.5 798.5,354.5 799.5,348.5 800.5,360.5 802.5,366.5 803.5,363.5 804.5,363.5 805.5,363.5 806.5,369.5 807.5,369.5 808.5,378.5 809.5,369.5 810.5,375.5 812.5,375.5 813.5,369.5 814.5,369.5 815.5,369.5 816.5,369.5 817.5,375.5 818.5,369.5 819.5,369.5 820.5,369.5 821.5,369.5 823.5,378.5 824.5,369.5 825.5,363.5 826.5,363.5 827.5,369.5 828.5,372.5 829.5,369.5 830.5,375.5 831.5,369.5 833.5,369.5 834.5,369.5 835.5,369.5 836.5,378.5 837.5,378.5 838.5,369.5 839.5,381.5 840.5,381.5 841.5,369.5 843.5,372.5 844.5,369.5 845.5,372.5 846.5,372.5 847.5,369.5 848.5,378.5 849.5,369.5 850.5,381.5 851.5,369.5 852.5,369.5 854.5,369.5 855.5,378.5 856.5,369.5 857.5,369.5 858.5,360.5 859.5,369.5 860.5,372.5 861.5,378.5 862.5,384.5 864.5,378.5 865.5,378.5 866.5,369.5 867.5,378.5 868.5,369.5 869.5,369.5 870.5,378.5 871.5,369.5 872.5,378.5 874.5,378.5 875.5,378.5 876.5,378.5 877.5,381.5 878.5,381.5 879.5,378.5 880.5,375.5 881.5,378.5 882.5,372.5 884.5,378.5 885.5,372.5 886.5,372.5 887.5,378.5 888.5,378.5 889.5,387.5 890.5,378.5 891.5,369.5 892.5,378.5 893.5,369.5 895.5,378.5 896.5,372.5 897.5,372.5 898.5,378.5 899.5,375.5 900.5,378.5 901.5,369.5 902.5,378.5 903.5,372.5 905.5,369.5 906.5,372.5 907.5,369.5 908.5,369.5 909.5,369.5 910.5,369.5 911.5,378.5 912.5,369.5 913.5,369.5 915.5,375.5 916.5,369.5 917.5,369.5 918.5,369.5 919.5,369.5 920.5,372.5 921.5,372.5 922.5,369.5 923.5,378.5 924.5,369.5 926.5,378.5 927.5,369.5 928.5,369.5 929.5,372.5 930.5,369.5 931.5,369.5 932.5,369.5 933.5,369.5 934.5,378.5 936.5,369.5 937.5,378.5 938.5,378.5 939.5,375.5 940.5,378.5 941.5,378.5 942.5,378.5 943.5,381.5 944.5,390.5 946.5,390.5 947.5,390.5 948.5,390.5 949.5,387.5 950.5,387.5 951.5,390.5 952.5,397.5 953.5,390.5 954.5,384.5 956.5,390.5 957.5,384.5 958.5,384.5 959.5,381.5 960.5,384.5 961.5,387.5 962.5,384.5 963.5,384.5 964.5,387.5 965.5,384.5 967.5,384.5 968.5,384.5 969.5,384.5 970.5,387.5 971.5,387.5 972.5,387.5 973.5,387.5 974.5,387.5 975.5,403.5 977.5,387.5 978.5,387.5 979.5,387.5 980.5,387.5 981.5,390.5 982.5,387.5 983.5,387.5 984.5,387.5 985.5,400.5 987.5,387.5 988.5,387.5 989.5,387.5 990.5,390.5 991.5,390.5 992.5,387.5 993.5,387.5 994.5,387.5 995.5,387.5 996.5,393.5 998.5,387.5 999.5,397.5 1000.5,387.5 1001.5,387.5 1002.5,381.5 1003.5,381.5 1004.5,387.5 1005.5,378.5 1006.5,393.5 1008.5,387.5 1009.5,387.5 1010.5,393.5 1011.5,393.5 1012.5,387.5 1013.5,387.5 1014.5,393.5 1015.5,393.5 1016.5,393.5 1018.5,393.5 1019.5,387.5 1020.5,387.5 1021.5,393.5 1022.5,393.5 1023.5,393.5 1024.5,384.5 1025.5,393.5 1026.5,381.5 1028.5,381.5 1029.5,393.5 1030.5,393.5 1031.5,393.5 1032.5,393.5 1033.5,390.5 1034.5,393.5 1035.5,390.5 1036.5,393.5 1037.5,384.5 1039.5,393.5 1040.5,393.5 1041.5,393.5 1042.5,387.5 1043.5,387.5 1044.5,393.5 1045.5,400.5 1046.5,400.5 1047.5,387.5 1049.5,387.5 1050.5,387.5 1051.5,397.5 1052.5,387.5 1053.5,387.5 1054.5,397.5 1055.5,387.5 1056.5,387.5 1057.5,387.5 1059.5,387.5 1060.5,393.5 1061.5,387.5 1062.5,393.5 1063.5,387.5 1064.5,393.5 1065.5,393.5 1066.5,393.5 1067.5,393.5 1068.5,393.5 1070.5,390.5 1071.5,390.5 1072.5,393.5 1073.5,384.5 1074.5,393.5 1075.5,393.5 1076.5,393.5 1077.5,390.5 1078.5,393.5 1080.5,387.5 1081.5,393.5 1082.5,397.5 1083.5,397.5 1084.5,393.5 1085.5,393.5 1086.5,393.5 1087.5,393.5 1088.5,390.5 1090.5,390.5 1091.5,393.5 1092.5,384.5 1093.5,390.5 1094.5,390.5 1095.5,397.5 1096.5,390.5 1097.5,390.5 1098.5,400.5 1099.5,390.5 1101.5,397.5 1102.5,397.5 1103.5,390.5 1104.5,400.5 1105.5,400.5 1106.5,397.5 1107.5,393.5 1108.5,397.5 1109.5,387.5 1111.5,397.5 1112.5,390.5 1113.5,397.5 1114.5,387.5 1115.5,387.5 1116.5,397.5 1117.5,393.5 1118.5,397.5 1119.5,390.5 1121.5,390.5 1122.5,397.5 1123.5,397.5 1124.5,393.5 1125.5,393.5 1126.5,397.5 1127.5,397.5 1128.5,397.5 1129.5,387.5 1131.5,387.5 1132.5,397.5 1133.5,393.5 1134.5,393.5 1135.5,397.5 1136.5,390.5 1137.5,390.5 1138.5,397.5 1139.5,397.5 1140.5,397.5 1142.5,397.5 1143.5,400.5 1144.5,400.5 1145.5,397.5 1146.5,397.5 1147.5,406.5 1148.5,397.5 1149.5,400.5 1150.5,397.5 1152.5,387.5 1153.5,397.5 1154.5,397.5 1155.5,393.5 1156.5,393.5 1157.5,390.5 1158.5,390.5 1159.5,400.5 1160.5,390.5 1162.5,381.5 1163.5,390.5 1164.5,400.5 1165.5,390.5 1166.5,390.5 1167.5,390.5 1168.5,381.5 1169.5,397.5 1170.5,397.5 1171.5,390.5 1173.5,397.5 1174.5,393.5 1175.5,397.5 1176.5,397.5 1177.5,397.5 1178.5,390.5 1179.5,397.5 1180.5,390.5 1181.5,390.5 1183.5,400.5 1184.5,390.5 1185.5,393.5 1186.5,393.5 1187.5,390.5 1188.5,390.5 1189.5,390.5 1190.5,390.5 1191.5,393.5 1193.5,390.5 1194.5,390.5 1195.5,390.5 1196.5,390.5 1197.5,400.5 1198.5,390.5 1199.5,397.5 1200.5,390.5 1201.5,390.5 1203.5,393.5 1204.5,390.5 1205.5,390.5 1206.5,390.5 1207.5,400.5 1208.5,390.5 1209.5,397.5 1210.5,390.5 1211.5,390.5 1212.5,390.5 1214.5,390.5 1215.5,397.5 1216.5,390.5 1217.5,390.5 1218.5,390.5 1219.5,397.5 1220.5,397.5 1221.5,378.5 1222.5,384.5 1224.5,378.5 1225.5,378.5 1226.5,378.5 1227.5,387.5 1228.5,390.5 1229.5,390.5 1230.5,397.5 1231.5,397.5 1232.5,397.5 1234.5,397.5 1235.5,387.5 1236.5,397.5 1237.5,397.5 1238.5,397.5 1239.5,387.5 1240.5,397.5 1241.5,397.5 1242.5,393.5 1243.5,397.5 1245.5,397.5 1246.5,397.5 1247.5,397.5 1248.5,390.5 1249.5,390.5 1250.5,375.5 1251.5,375.5 1252.5,375.5 1253.5,375.5 1255.5,387.5 1256.5,375.5 1257.5,381.5 1258.5,375.5 1259.5,378.5 1260.5,378.5 1261.5,393.5 1262.5,393.5 1263.5,397.5 1265.5,397.5 1266.5,393.5 1267.5,393.5 1268.5,393.5 1269.5,393.5 1270.5,390.5 1271.5,390.5 1272.5,393.5 1273.5,400.5 1275.5,400.5 1276.5,384.5 1277.5,375.5 1278.5,384.5 1279.5,384.5 1280.5,390.5 1281.5,390.5 1282.5,384.5 1283.5,384.5 1284.5,390.5 1286.5,387.5 1287.5,393.5 1288.5,393.5 1289.5,400.5 1290.5,397.5 1291.5,397.5 1292.5,400.5 1293.5,412.5 1294.5,412.5 1296.5,400.5 1297.5,400.5 1298.5,400.5 1299.5,400.5 1300.5,403.5 1301.5,400.5 1302.5,403.5 1303.5,400.5 1304.5,403.5 1306.5,400.5 1307.5,400.5 1308.5,400.5 1309.5,406.5 1310.5,393.5 1311.5,393.5 1312.5,393.5 1313.5,393.5 1314.5,400.5 1315.5,400.5 1317.5,393.5 1318.5,400.5 1319.5,393.5 1320.5,403.5 1321.5,403.5 1322.5,393.5 1323.5,378.5 1324.5,393.5 1325.5,393.5 1327.5,397.5 1328.5,393.5 1329.5,393.5 1330.5,387.5 1331.5,393.5 1332.5,400.5 1333.5,400.5 1334.5,393.5 1335.5,403.5 1337.5,393.5 1338.5,400.5 1339.5,390.5 1340.5,390.5 1341.5,390.5 1342.5,393.5 1343.5,387.5 1344.5,387.5 1345.5,387.5 1347.5,393.5 1348.5,393.5 1349.5,387.5 1350.5,387.5 1351.5,397.5 1352.5,397.5 1353.5,387.5 1354.5,387.5 1355.5,387.5 1356.5,384.5 1358.5,387.5 1359.5,387.5 1360.5,387.5 1361.5,397.5 1362.5,387.5 1363.5,387.5 1364.5,393.5 1365.5,390.5 1366.5,400.5 1368.5,390.5 1369.5,390.5 1370.5,397.5 1371.5,390.5 1372.5,397.5 1373.5,397.5 1374.5,390.5 1375.5,400.5 1376.5,390.5 1378.5,381.5 1379.5,390.5 1380.5,393.5 1381.5,390.5 1382.5,390.5 1383.5,397.5 1384.5,397.5 1385.5,397.5 1386.5,393.5 1387.5,400.5 1389.5,390.5 1390.5,406.5 1391.5,400.5 1392.5,406.5 1393.5,406.5 1394.5,406.5 1395.5,403.5 1396.5,403.5 1397.5,406.5 1399.5,406.5 1400.5,397.5 1401.5,397.5 1402.5,406.5 1403.5,400.5 1404.5,406.5 1405.5,400.5 1406.5,400.5 1407.5,400.5 1409.5,406.5 1410.5,406.5 1411.5,400.5 1412.5,400.5 1413.5,390.5 1414.5,400.5 1415.5,397.5 1416.5,403.5 1417.5,403.5 1418.5,403.5 1420.5,403.5 1421.5,400.5 1422.5,400.5 1423.5,390.5 1424.5,390.5 1425.5,400.5 1426.5,400.5 1427.5,403.5 1428.5,397.5 1430.5,406.5 1431.5,406.5 1432.5,397.5 1433.5,400.5 1434.5,400.5 1435.5,403.5 1436.5,403.5 1437.5,397.5 1438.5,397.5 1440.5,403.5 1441.5,397.5 1442.5,403.5 1443.5,400.5 1444.5,403.5 1445.5,403.5 1446.5,412.5 1447.5,397.5 1448.5,397.5 1450.5,397.5 1451.5,397.5 1452.5,406.5 1453.5,397.5 1454.5,397.5 1455.5,403.5 1456.5,403.5 1457.5,400.5 1458.5,406.5 1459.5,406.5 1461.5,400.5 1462.5,406.5 1463.5,400.5 1464.5,409.5 1465.5,400.5 1466.5,400.5 1467.5,400.5 1468.5,400.5 1469.5,406.5 1471.5,409.5 1472.5,409.5 1473.5,409.5 1474.5,409.5 1475.5,400.5 1476.5,409.5 1477.5,409.5 1478.5,403.5 1479.5,409.5 1481.5,403.5 1482.5,409.5 1483.5,412.5 1484.5,409.5 1485.5,400.5 1486.5,400.5 1487.5,400.5 1488.5,400.5 1489.5,409.5 1490.5,400.5 1492.5,400.5 1493.5,403.5 1494.5,400.5 1495.5,400.5 1496.5,400.5 1497.5,400.5 1498.5,393.5 1499.5,400.5 1500.5,403.5 1502.5,403.5 1503.5,400.5 1504.5,409.5 1505.5,409.5 1506.5,400.5 1507.5,400.5 1508.5,400.5 1509.5,403.5 1510.5,397.5 1512.5,400.5 1513.5,400.5 1514.5,397.5 1515.5,400.5 1516.5,397.5 1517.5,397.5 1518.5,406.5 1519.5,397.5 1520.5,400.5 1522.5,397.5 1523.5,406.5 1524.5,397.5 1525.5,397.5 1526.5,400.5 1527.5,397.5 1528.5,400.5 1529.5,397.5 1530.5,406.5 1531.5,397.5 1533.5,397.5 1534.5,406.5 1535.5,397.5 1536.5,397.5 1537.5,397.5 1538.5,400.5 1539.5,397.5 1540.5,397.5 1541.5,406.5 1543.5,397.5 1544.5,406.5 1545.5,406.5 1546.5,397.5 1547.5,387.5 1548.5,397.5 1549.5,397.5 1550.5,397.5 1551.5,400.5 1553.5,397.5 1554.5,397.5 1555.5,406.5 1556.5,390.5 1557.5,390.5 1558.5,390.5 1559.5,397.5 1560.5,390.5 1561.5,397.5 1562.5,390.5 1564.5,400.5 1565.5,400.5 1566.5,390.5 1567.5,390.5 1568.5,397.5 1569.5,390.5 1570.5,400.5 1571.5,390.5 1572.5,393.5 1574.5,390.5 1575.5,393.5 1576.5,390.5 1577.5,397.5 1578.5,397.5 1579.5,400.5 1580.5,387.5 1581.5,387.5 1582.5,400.5 1584.5,400.5 1585.5,400.5 1586.5,397.5 1587.5,397.5 1588.5,400.5 1589.5,400.5 1590.5,400.5 1591.5,393.5 1592.5,393.5 1594.5,393.5 1595.5,387.5 1596.5,393.5 1597.5,387.5 1598.5,387.5 1599.5,393.5 1600.5,390.5 1601.5,393.5 1602.5,393.5 1603.5,393.5 1605.5,393.5 1606.5,400.5 1607.5,400.5 1608.5,393.5 1609.5,390.5 1610.5,393.5 1611.5,390.5 1612.5,390.5 1613.5,384.5 1615.5,384.5 1616.5,387.5 1617.5,397.5 1618.5,387.5 1619.5,387.5 1620.5,393.5 1621.5,387.5 1622.5,387.5 1623.5,381.5 1625.5,387.5 1626.5,381.5 1627.5,387.5 1628.5,387.5 1629.5,387.5 1630.5,387.5 1631.5,381.5 1632.5,387.5 1633.5,381.5 1634.5,387.5 1636.5,387.5 1637.5,387.5 1638.5,378.5 1639.5,387.5 1640.5,378.5 1641.5,387.5 1642.5,387.5 1643.5,378.5 1644.5,378.5 1646.5,387.5 1647.5,384.5 1648.5,387.5 1649.5,378.5 1650.5,387.5 1651.5,387.5 1652.5,387.5 1653.5,381.5 1654.5,384.5 1656.5,384.5 1657.5,384.5 1658.5,387.5 1659.5,384.5 1660.5,387.5 1661.5,384.5 1662.5,384.5 1663.5,384.5 1664.5,384.5 1666.5,390.5 1667.5,384.5 1668.5,384.5 1669.5,390.5 1670.5,390.5 1671.5,384.5 1672.5,393.5 1673.5,390.5 1674.5,384.5 1675.5,390.5 1677.5,375.5 1678.5,390.5 1679.5,387.5 1680.5,390.5 1681.5,390.5 1682.5,387.5 1683.5,390.5 1684.5,400.5 1685.5,400.5 1687.5,390.5 1688.5,384.5 1689.5,384.5 1690.5,390.5 1691.5,390.5 1692.5,387.5 1693.5,387.5 1694.5,390.5 1695.5,387.5 1697.5,390.5 1698.5,390.5 1699.5,378.5 1700.5,384.5 1701.5,384.5 1702.5,384.5 1703.5,387.5 1704.5,384.5 1705.5,378.5 1706.5,378.5 1708.5,384.5 1709.5,378.5 1710.5,378.5 1711.5,384.5 1712.5,384.5 1713.5,381.5 1714.5,384.5 1715.5,381.5 1716.5,384.5 1718.5,384.5 1719.5,381.5 1720.5,384.5 1721.5,381.5 1722.5,384.5 1723.5,378.5 1724.5,384.5 1725.5,381.5 1726.5,381.5 1728.5,381.5 1729.5,378.5 1730.5,381.5 1731.5,381.5 1732.5,381.5" fill="none" stroke="#ff00ff" stroke-width="1" shape-rendering="crispEdges"/><polyline points="142.5,793.5 144.5,814.5 145.5,796.5 146.5,819.5 147.5,811.5 148.5,834.5 149.5,790.5 150.5,809.5 151.5,789.5 152.5,772.5 154.5,813.5 155.5,782.5 156.5,785.5 157.5,807.5 158.5,772.5 159.5,794.5 160.5,794.5 161.5,757.5 162.5,806.5 164.5,793.5 165.5,797.5 166.5,762.5 167.5,802.5 168.5,743.5 169.5,739.5 170.5,771.5 171.5,743.5 172.5,785.5 174.5,804.5 175.5,806.5 176.5,768.5 177.5,793.5 178.5,741.5 179.5,761.5 180.5,746.5 181.5,797.5 182.5,776.5 183.5,755.5 185.5,752.5 186.5,786.5 187.5,737.5 188.5,768.5 189.5,799.5 190.5,739.5 191.5,780.5 192.5,749.5 193.5,797.5 195.5,805.5 196.5,776.5 197.5,791.5 198.5,792.5 199.5,788.5 200.5,796.5 201.5,793.5 202.5,797.5 203.5,763.5 205.5,806.5 206.5,752.5 207.5,817.5 208.5,753.5 209.5,808.5 210.5,788.5 211.5,778.5 212.5,795.5 213.5,754.5 214.5,789.5 216.5,802.5 217.5,757.5 218.5,812.5 219.5,759.5 220.5,786.5 221.5,765.5 222.5,793.5 223.5,788.5 224.5,765.5 226.5,790.5 227.5,806.5 228.5,767.5 229.5,779.5 230.5,792.5 231.5,776.5 232.5,776.5 233.5,760.5 234.5,808.5 236.5,762.5 237.5,795.5 238.5,762.5 239.5,808.5 240.5,780.5 241.5,802.5 242.5,774.5 243.5,797.5 244.5,792.5 246.5,797.5 247.5,789.5 248.5,800.5 249.5,805.5 250.5,813.5 251.5,814.5 252.5,828.5 253.5,817.5 254.5,841.5 255.5,831.5 257.5,833.5 258.5,820.5 259.5,811.5 260.5,832.5 261.5,829.5 262.5,840.5 263.5,816.5 264.5,828.5 265.5,810.5 267.5,759.5 268.5,731.5 269.5,651.5 270.5,618.5 271.5,620.5 272.5,535.5 273.5,586.5 274.5,565.5 275.5,543.5 277.5,628.5 278.5,612.5 279.5,515.5 280.5,570.5 281.5,568.5 282.5,506.5 283.5,623.5 284.5,523.5 285.5,534.5 286.5,530.5 288.5,618.5 289.5,630.5 290.5,541.5 291.5,605.5 292.5,510.5 293.5,664.5 294.5,536.5 295.5,693.5 296.5,540.5 298.5,575.5 299.5,661.5 300.5,517.5 301.5,516.5 302.5,659.5 303.5,636.5 304.5,534.5 305.5,652.5 306.5,723.5 308.5,734.5 309.5,790.5 310.5,826.5 311.5,723.5 312.5,826.5 313.5,754.5 314.5,797.5 315.5,724.5 316.5,768.5 318.5,761.5 319.5,736.5 320.5,731.5 321.5,719.5 322.5,727.5 323.5,664.5 324.5,678.5 325.5,716.5 326.5,700.5 327.5,724.5 329.5,779.5 330.5,726.5 331.5,731.5 332.5,769.5 333.5,772.5 334.5,777.5 335.5,790.5 336.5,810.5 337.5,817.5 339.5,811.5 340.5,838.5 341.5,803.5 342.5,827.5 343.5,802.5 344.5,841.5 345.5,781.5 346.5,841.5 347.5,808.5 349.5,841.5 350.5,766.5 351.5,766.5 352.5,794.5 353.5,767.5 354.5,806.5 355.5,778.5 356.5,782.5 357.5,791.5 358.5,792.5 360.5,799.5 361.5,800.5 362.5,824.5 363.5,834.5 364.5,824.5 365.5,838.5 366.5,839.5 367.5,837.5 368.5,834.5 370.5,833.5 371.5,847.5 372.5,831.5 373.5,844.5 374.5,834.5 375.5,831.5 376.5,847.5 377.5,820.5 378.5,824.5 380.5,813.5 381.5,783.5 382.5,809.5 383.5,815.5 384.5,842.5 385.5,823.5 386.5,836.5 387.5,814.5 388.5,830.5 390.5,840.5 391.5,814.5 392.5,845.5 393.5,814.5 394.5,843.5 395.5,814.5 396.5,846.5 397.5,835.5 398.5,847.5 399.5,854.5 401.5,837.5 402.5,855.5 403.5,835.5 404.5,843.5 405.5,846.5 406.5,841.5 407.5,855.5 408.5,844.5 409.5,853.5 411.5,845.5 412.5,855.5 413.5,846.5 414.5,857.5 415.5,852.5 416.5,855.5 417.5,857.5 418.5,858.5 419.5,858.5 421.5,853.5 422.5,860.5 423.5,856.5 424.5,855.5 425.5,860.5 426.5,854.5 427.5,861.5 428.5,861.5 429.5,855.5 430.5,860.5 432.5,855.5 433.5,860.5 434.5,860.5 435.5,856.5 436.5,861.5 437.5,858.5 438.5,861.5 439.5,862.5 440.5,862.5 442.5,863.5 443.5,862.5 444.5,862.5 445.5,863.5 446.5,862.5 447.5,862.5 448.5,863.5 449.5,862.5 450.5,863.5 452.5,862.5 453.5,862.5 454.5,862.5 455.5,862.5 456.5,861.5 457.5,861.5 458.5,855.5 459.5,858.5 460.5,852.5 461.5,853.5 463.5,853.5 464.5,857.5 465.5,852.5 466.5,855.5 467.5,859.5 468.5,851.5 469.5,854.5 470.5,854.5 471.5,855.5 473.5,854.5 474.5,851.5 475.5,858.5 476.5,853.5 477.5,854.5 478.5,842.5 479.5,849.5 480.5,840.5 481.5,837.5 483.5,844.5 484.5,844.5 485.5,856.5 486.5,847.5 487.5,858.5 488.5,849.5 489.5,854.5 490.5,849.5 491.5,854.5 493.5,857.5 494.5,855.5 495.5,860.5 496.5,858.5 497.5,853.5 498.5,855.5 499.5,850.5 500.5,846.5 501.5,838.5 502.5,841.5 504.5,829.5 505.5,826.5 506.5,817.5 507.5,813.5 508.5,817.5 509.5,815.5 510.5,816.5 511.5,824.5 512.5,825.5 514.5,830.5 515.5,835.5 516.5,842.5 517.5,836.5 518.5,840.5 519.5,830.5 520.5,833.5 521.5,835.5 522.5,840.5 524.5,840.5 525.5,845.5 526.5,850.5 527.5,847.5 528.5,852.5 529.5,855.5 530.5,859.5 531.5,862.5 532.5,862.5 533.5,862.5 535.5,863.5 536.5,860.5 537.5,863.5 538.5,860.5 539.5,863.5 540.5,860.5 541.5,863.5 542.5,861.5 543.5,862.5 545.5,862.5 546.5,861.5 547.5,861.5 548.5,861.5 549.5,859.5 550.5,861.5 551.5,859.5 552.5,862.5 553.5,863.5 555.5,861.5 556.5,860.5 557.5,860.5 558.5,862.5 559.5,859.5 560.5,859.5 561.5,859.5 562.5,858.5 563.5,858.5 565.5,860.5 566.5,857.5 567.5,848.5 568.5,841.5 569.5,829.5 570.5,821.5 571.5,818.5 572.5,824.5 573.5,815.5 574.5,821.5 576.5,820.5 577.5,823.5 578.5,831.5 579.5,835.5 580.5,843.5 581.5,854.5 582.5,839.5 583.5,837.5 584.5,834.5 586.5,839.5 587.5,829.5 588.5,822.5 589.5,823.5 590.5,822.5 591.5,825.5 592.5,831.5 593.5,831.5 594.5,816.5 596.5,837.5 597.5,816.5 598.5,839.5 599.5,828.5 600.5,821.5 601.5,827.5 602.5,823.5 603.5,848.5 604.5,823.5 605.5,822.5 607.5,809.5 608.5,806.5 609.5,795.5 610.5,780.5 611.5,780.5 612.5,777.5 613.5,779.5 614.5,790.5 615.5,784.5 617.5,808.5 618.5,821.5 619.5,842.5 620.5,839.5 621.5,850.5 622.5,838.5 623.5,833.5 624.5,851.5 625.5,819.5 627.5,807.5 628.5,821.5 629.5,795.5 630.5,815.5 631.5,797.5 632.5,818.5 633.5,796.5 634.5,814.5 635.5,797.5 637.5,819.5 638.5,798.5 639.5,820.5 640.5,811.5 641.5,819.5 642.5,820.5 643.5,804.5 644.5,828.5 645.5,825.5 646.5,837.5 648.5,844.5 649.5,847.5 650.5,853.5 651.5,852.5 652.5,854.5 653.5,830.5 654.5,845.5 655.5,824.5 656.5,849.5 658.5,824.5 659.5,844.5 660.5,831.5 661.5,840.5 662.5,849.5 663.5,844.5 664.5,839.5 665.5,856.5 666.5,849.5 668.5,852.5 669.5,851.5 670.5,857.5 671.5,855.5 672.5,852.5 673.5,859.5 674.5,854.5 675.5,859.5 676.5,855.5 677.5,860.5 679.5,858.5 680.5,856.5 681.5,861.5 682.5,858.5 683.5,861.5 684.5,861.5 685.5,859.5 686.5,861.5 687.5,860.5 689.5,861.5 690.5,862.5 691.5,862.5 692.5,863.5 693.5,862.5 694.5,862.5 695.5,861.5 696.5,863.5 697.5,862.5 699.5,862.5 700.5,861.5 701.5,862.5 702.5,862.5 703.5,863.5 704.5,862.5 705.5,862.5 706.5,862.5 707.5,862.5 709.5,862.5 710.5,862.5 711.5,862.5 712.5,863.5 713.5,861.5 714.5,863.5 715.5,862.5 716.5,862.5 717.5,862.5 718.5,862.5 720.5,862.5 721.5,862.5 722.5,862.5 723.5,862.5 724.5,863.5 725.5,862.5 726.5,863.5 727.5,862.5 728.5,862.5 730.5,862.5 731.5,863.5 732.5,862.5 733.5,862.5 734.5,862.5 735.5,863.5 736.5,862.5 737.5,863.5 738.5,862.5 740.5,863.5 741.5,863.5 742.5,863.5 743.5,863.5 744.5,858.5 745.5,853.5 746.5,847.5 747.5,852.5 748.5,848.5 749.5,856.5 751.5,858.5 752.5,854.5 753.5,847.5 754.5,859.5 755.5,856.5 756.5,851.5 757.5,862.5 758.5,847.5 759.5,862.5 761.5,861.5 762.5,847.5 763.5,857.5 764.5,855.5 765.5,862.5 766.5,847.5 767.5,862.5 768.5,850.5 769.5,854.5 771.5,850.5 772.5,853.5 773.5,853.5 774.5,848.5 775.5,862.5 776.5,847.5 777.5,857.5 778.5,849.5 779.5,854.5 780.5,854.5 782.5,850.5 783.5,855.5 784.5,862.5 785.5,855.5 786.5,852.5 787.5,860.5 788.5,847.5 789.5,858.5 790.5,847.5 792.5,853.5 793.5,850.5 794.5,862.5 795.5,851.5 796.5,858.5 797.5,851.5 798.5,854.5 799.5,851.5 800.5,854.5 802.5,846.5 803.5,840.5 804.5,842.5 805.5,856.5 806.5,848.5 807.5,841.5 808.5,824.5 809.5,849.5 810.5,825.5 812.5,835.5 813.5,827.5 814.5,824.5 815.5,840.5 816.5,831.5 817.5,809.5 818.5,826.5 819.5,820.5 820.5,829.5 821.5,802.5 823.5,831.5 824.5,820.5 825.5,809.5 826.5,817.5 827.5,827.5 828.5,811.5 829.5,799.5 830.5,806.5 831.5,803.5 833.5,799.5 834.5,813.5 835.5,785.5 836.5,796.5 837.5,751.5 838.5,808.5 839.5,770.5 840.5,755.5 841.5,808.5 843.5,763.5 844.5,808.5 845.5,763.5 846.5,800.5 847.5,790.5 848.5,816.5 849.5,836.5 850.5,826.5 851.5,846.5 852.5,847.5 854.5,851.5 855.5,851.5 856.5,863.5 857.5,853.5 858.5,859.5 859.5,853.5 860.5,857.5 861.5,855.5 862.5,858.5 864.5,859.5 865.5,857.5 866.5,863.5 867.5,856.5 868.5,863.5 869.5,855.5 870.5,860.5 871.5,856.5 872.5,860.5 874.5,855.5 875.5,863.5 876.5,859.5 877.5,861.5 878.5,847.5 879.5,857.5 880.5,821.5 881.5,855.5 882.5,813.5 884.5,836.5 885.5,822.5 886.5,831.5 887.5,846.5 888.5,844.5 889.5,844.5 890.5,835.5 891.5,835.5 892.5,831.5 893.5,853.5 895.5,805.5 896.5,827.5 897.5,828.5 898.5,801.5 899.5,837.5 900.5,820.5 901.5,812.5 902.5,824.5 903.5,840.5 905.5,817.5 906.5,834.5 907.5,842.5 908.5,811.5 909.5,818.5 910.5,833.5 911.5,833.5 912.5,805.5 913.5,853.5 915.5,811.5 916.5,832.5 917.5,815.5 918.5,834.5 919.5,842.5 920.5,832.5 921.5,845.5 922.5,832.5 923.5,859.5 924.5,853.5 926.5,851.5 927.5,840.5 928.5,855.5 929.5,854.5 930.5,835.5 931.5,838.5 932.5,852.5 933.5,827.5 934.5,849.5 936.5,838.5 937.5,822.5 938.5,844.5 939.5,842.5 940.5,825.5 941.5,843.5 942.5,822.5 943.5,837.5 944.5,828.5 946.5,772.5 947.5,811.5 948.5,801.5 949.5,782.5 950.5,785.5 951.5,760.5 952.5,793.5 953.5,789.5 954.5,813.5 956.5,813.5 957.5,816.5 958.5,818.5 959.5,834.5 960.5,781.5 961.5,781.5 962.5,823.5 963.5,839.5 964.5,812.5 965.5,851.5 967.5,812.5 968.5,850.5 969.5,831.5 970.5,845.5 971.5,815.5 972.5,832.5 973.5,835.5 974.5,837.5 975.5,840.5 977.5,826.5 978.5,825.5 979.5,822.5 980.5,856.5 981.5,826.5 982.5,857.5 983.5,834.5 984.5,853.5 985.5,845.5 987.5,853.5 988.5,835.5 989.5,848.5 990.5,826.5 991.5,854.5 992.5,826.5 993.5,847.5 994.5,852.5 995.5,843.5 996.5,861.5 998.5,841.5 999.5,857.5 1000.5,841.5 1001.5,835.5 1002.5,852.5 1003.5,845.5 1004.5,852.5 1005.5,847.5 1006.5,849.5 1008.5,858.5 1009.5,850.5 1010.5,844.5 1011.5,859.5 1012.5,835.5 1013.5,858.5 1014.5,843.5 1015.5,863.5 1016.5,836.5 1018.5,841.5 1019.5,854.5 1020.5,862.5 1021.5,840.5 1022.5,852.5 1023.5,845.5 1024.5,851.5 1025.5,860.5 1026.5,862.5 1028.5,847.5 1029.5,849.5 1030.5,863.5 1031.5,841.5 1032.5,853.5 1033.5,843.5 1034.5,849.5 1035.5,851.5 1036.5,845.5 1037.5,855.5 1039.5,847.5 1040.5,855.5 1041.5,842.5 1042.5,850.5 1043.5,850.5 1044.5,849.5 1045.5,850.5 1046.5,860.5 1047.5,839.5 1049.5,844.5 1050.5,862.5 1051.5,847.5 1052.5,863.5 1053.5,847.5 1054.5,850.5 1055.5,863.5 1056.5,850.5 1057.5,855.5 1059.5,852.5 1060.5,860.5 1061.5,851.5 1062.5,861.5 1063.5,859.5 1064.5,848.5 1065.5,858.5 1066.5,856.5 1067.5,863.5 1068.5,855.5 1070.5,853.5 1071.5,863.5 1072.5,855.5 1073.5,860.5 1074.5,859.5 1075.5,855.5 1076.5,863.5 1077.5,857.5 1078.5,860.5 1080.5,856.5 1081.5,857.5 1082.5,861.5 1083.5,860.5 1084.5,859.5 1085.5,860.5 1086.5,861.5 1087.5,859.5 1088.5,856.5 1090.5,863.5 1091.5,858.5 1092.5,862.5 1093.5,856.5 1094.5,856.5 1095.5,858.5 1096.5,861.5 1097.5,863.5 1098.5,863.5 1099.5,860.5 1101.5,859.5 1102.5,862.5 1103.5,862.5 1104.5,862.5 1105.5,863.5 1106.5,863.5 1107.5,863.5 1108.5,863.5 1109.5,858.5 1111.5,863.5 1112.5,863.5 1113.5,863.5 1114.5,863.5 1115.5,863.5 1116.5,863.5 1117.5,863.5 1118.5,863.5 1119.5,863.5 1121.5,863.5 1122.5,863.5 1123.5,863.5 1124.5,863.5 1125.5,860.5 1126.5,863.5 1127.5,863.5 1128.5,863.5 1129.5,863.5 1131.5,863.5 1132.5,863.5 1133.5,863.5 1134.5,863.5 1135.5,863.5 1136.5,863.5 1137.5,863.5 1138.5,863.5 1139.5,863.5 1140.5,863.5 1142.5,863.5 1143.5,853.5 1144.5,863.5 1145.5,863.5 1146.5,863.5 1147.5,863.5 1148.5,863.5 1149.5,863.5 1150.5,863.5 1152.5,863.5 1153.5,863.5 1154.5,863.5 1155.5,863.5 1156.5,863.5 1157.5,863.5 1158.5,863.5 1159.5,863.5 1160.5,863.5 1162.5,863.5 1163.5,858.5 1164.5,863.5 1165.5,863.5 1166.5,863.5 1167.5,863.5 1168.5,863.5 1169.5,863.5 1170.5,863.5 1171.5,863.5 1173.5,863.5 1174.5,863.5 1175.5,863.5 1176.5,863.5 1177.5,863.5 1178.5,863.5 1179.5,859.5 1180.5,863.5 1181.5,863.5 1183.5,863.5 1184.5,863.5 1185.5,863.5 1186.5,863.5 1187.5,863.5 1188.5,863.5 1189.5,863.5 1190.5,863.5 1191.5,863.5 1193.5,859.5 1194.5,863.5 1195.5,863.5 1196.5,863.5 1197.5,863.5 1198.5,863.5 1199.5,863.5 1200.5,861.5 1201.5,863.5 1203.5,863.5 1204.5,863.5 1205.5,863.5 1206.5,863.5 1207.5,863.5 1208.5,863.5 1209.5,863.5 1210.5,863.5 1211.5,863.5 1212.5,863.5 1214.5,863.5 1215.5,863.5 1216.5,860.5 1217.5,863.5 1218.5,863.5 1219.5,863.5 1220.5,863.5 1221.5,863.5 1222.5,863.5 1224.5,863.5 1225.5,863.5 1226.5,863.5 1227.5,863.5 1228.5,863.5 1229.5,863.5 1230.5,863.5 1231.5,863.5 1232.5,863.5 1234.5,863.5 1235.5,863.5 1236.5,863.5 1237.5,860.5 1238.5,863.5 1239.5,863.5 1240.5,863.5 1241.5,863.5 1242.5,863.5 1243.5,863.5 1245.5,863.5 1246.5,863.5 1247.5,863.5 1248.5,863.5 1249.5,863.5 1250.5,863.5 1251.5,863.5 1252.5,863.5 1253.5,863.5 1255.5,863.5 1256.5,863.5 1257.5,855.5 1258.5,859.5 1259.5,863.5 1260.5,863.5 1261.5,863.5 1262.5,863.5 1263.5,863.5 1265.5,863.5 1266.5,863.5 1267.5,863.5 1268.5,863.5 1269.5,863.5 1270.5,863.5 1271.5,863.5 1272.5,863.5 1273.5,863.5 1275.5,863.5 1276.5,863.5 1277.5,863.5 1278.5,863.5 1279.5,863.5 1280.5,863.5 1281.5,863.5 1282.5,863.5 1283.5,863.5 1284.5,863.5 1286.5,863.5 1287.5,863.5 1288.5,863.5 1289.5,863.5 1290.5,861.5 1291.5,863.5 1292.5,863.5 1293.5,863.5 1294.5,863.5 1296.5,863.5 1297.5,863.5 1298.5,863.5 1299.5,863.5 1300.5,863.5 1301.5,863.5 1302.5,863.5 1303.5,863.5 1304.5,863.5 1306.5,863.5 1307.5,863.5 1308.5,863.5 1309.5,851.5 1310.5,863.5 1311.5,863.5 1312.5,863.5 1313.5,863.5 1314.5,863.5 1315.5,863.5 1317.5,863.5 1318.5,863.5 1319.5,863.5 1320.5,863.5 1321.5,863.5 1322.5,863.5 1323.5,863.5 1324.5,863.5 1325.5,863.5 1327.5,863.5 1328.5,863.5 1329.5,863.5 1330.5,863.5 1331.5,863.5 1332.5,863.5 1333.5,863.5 1334.5,863.5 1335.5,863.5 1337.5,863.5 1338.5,863.5 1339.5,863.5 1340.5,861.5 1341.5,863.5 1342.5,863.5 1343.5,863.5 1344.5,863.5 1345.5,863.5 1347.5,863.5 1348.5,863.5 1349.5,863.5 1350.5,863.5 1351.5,863.5 1352.5,863.5 1353.5,863.5 1354.5,863.5 1355.5,863.5 1356.5,863.5 1358.5,863.5 1359.5,863.5 1360.5,863.5 1361.5,863.5 1362.5,863.5 1363.5,863.5 1364.5,863.5 1365.5,863.5 1366.5,863.5 1368.5,863.5 1369.5,863.5 1370.5,860.5 1371.5,863.5 1372.5,863.5 1373.5,863.5 1374.5,863.5 1375.5,863.5 1376.5,863.5 1378.5,863.5 1379.5,863.5 1380.5,863.5 1381.5,863.5 1382.5,863.5 1383.5,863.5 1384.5,857.5 1385.5,863.5 1386.5,863.5 1387.5,863.5 1389.5,863.5 1390.5,863.5 1391.5,856.5 1392.5,859.5 1393.5,850.5 1394.5,841.5 1395.5,849.5 1396.5,844.5 1397.5,850.5 1399.5,836.5 1400.5,847.5 1401.5,839.5 1402.5,842.5 1403.5,834.5 1404.5,841.5 1405.5,829.5 1406.5,840.5 1407.5,837.5 1409.5,834.5 1410.5,836.5 1411.5,826.5 1412.5,845.5 1413.5,818.5 1414.5,844.5 1415.5,831.5 1416.5,831.5 1417.5,833.5 1418.5,848.5 1420.5,834.5 1421.5,844.5 1422.5,854.5 1423.5,835.5 1424.5,852.5 1425.5,855.5 1426.5,847.5 1427.5,854.5 1428.5,854.5 1430.5,846.5 1431.5,855.5 1432.5,850.5 1433.5,854.5 1434.5,842.5 1435.5,860.5 1436.5,821.5 1437.5,856.5 1438.5,816.5 1440.5,812.5 1441.5,844.5 1442.5,836.5 1443.5,851.5 1444.5,826.5 1445.5,838.5 1446.5,846.5 1447.5,846.5 1448.5,848.5 1450.5,837.5 1451.5,845.5 1452.5,831.5 1453.5,855.5 1454.5,833.5 1455.5,806.5 1456.5,806.5 1457.5,835.5 1458.5,806.5 1459.5,834.5 1461.5,818.5 1462.5,834.5 1463.5,812.5 1464.5,827.5 1465.5,825.5 1466.5,828.5 1467.5,840.5 1468.5,823.5 1469.5,844.5 1471.5,825.5 1472.5,835.5 1473.5,849.5 1474.5,844.5 1475.5,829.5 1476.5,845.5 1477.5,838.5 1478.5,848.5 1479.5,830.5 1481.5,842.5 1482.5,839.5 1483.5,848.5 1484.5,845.5 1485.5,833.5 1486.5,855.5 1487.5,834.5 1488.5,836.5 1489.5,828.5 1490.5,842.5 1492.5,826.5 1493.5,854.5 1494.5,839.5 1495.5,853.5 1496.5,839.5 1497.5,826.5 1498.5,846.5 1499.5,845.5 1500.5,827.5 1502.5,848.5 1503.5,851.5 1504.5,845.5 1505.5,834.5 1506.5,847.5 1507.5,843.5 1508.5,853.5 1509.5,835.5 1510.5,843.5 1512.5,846.5 1513.5,845.5 1514.5,847.5 1515.5,851.5 1516.5,840.5 1517.5,838.5 1518.5,847.5 1519.5,842.5 1520.5,850.5 1522.5,846.5 1523.5,838.5 1524.5,851.5 1525.5,846.5 1526.5,841.5 1527.5,851.5 1528.5,843.5 1529.5,851.5 1530.5,847.5 1531.5,856.5 1533.5,860.5 1534.5,843.5 1535.5,845.5 1536.5,850.5 1537.5,845.5 1538.5,854.5 1539.5,846.5 1540.5,860.5 1541.5,845.5 1543.5,860.5 1544.5,839.5 1545.5,854.5 1546.5,860.5 1547.5,839.5 1548.5,859.5 1549.5,839.5 1550.5,860.5 1551.5,839.5 1553.5,857.5 1554.5,844.5 1555.5,840.5 1556.5,860.5 1557.5,838.5 1558.5,857.5 1559.5,836.5 1560.5,842.5 1561.5,847.5 1562.5,843.5 1564.5,849.5 1565.5,833.5 1566.5,838.5 1567.5,835.5 1568.5,840.5 1569.5,837.5 1570.5,830.5 1571.5,834.5 1572.5,835.5 1574.5,836.5 1575.5,822.5 1576.5,832.5 1577.5,814.5 1578.5,829.5 1579.5,826.5 1580.5,824.5 1581.5,823.5 1582.5,837.5 1584.5,815.5 1585.5,819.5 1586.5,828.5 1587.5,823.5 1588.5,811.5 1589.5,834.5 1590.5,826.5 1591.5,808.5 1592.5,812.5 1594.5,813.5 1595.5,820.5 1596.5,806.5 1597.5,812.5 1598.5,810.5 1599.5,816.5 1600.5,815.5 1601.5,811.5 1602.5,810.5 1603.5,809.5 1605.5,806.5 1606.5,812.5 1607.5,810.5 1608.5,816.5 1609.5,810.5 1610.5,815.5 1611.5,813.5 1612.5,811.5 1613.5,814.5 1615.5,815.5 1616.5,812.5 1617.5,817.5 1618.5,820.5 1619.5,817.5 1620.5,821.5 1621.5,819.5 1622.5,823.5 1623.5,819.5 1625.5,824.5 1626.5,823.5 1627.5,822.5 1628.5,822.5 1629.5,827.5 1630.5,824.5 1631.5,825.5 1632.5,826.5 1633.5,828.5 1634.5,827.5 1636.5,829.5 1637.5,831.5 1638.5,830.5 1639.5,836.5 1640.5,835.5 1641.5,841.5 1642.5,837.5 1643.5,843.5 1644.5,836.5 1646.5,843.5 1647.5,837.5 1648.5,844.5 1649.5,838.5 1650.5,841.5 1651.5,842.5 1652.5,831.5 1653.5,834.5 1654.5,826.5 1656.5,826.5 1657.5,821.5 1658.5,813.5 1659.5,813.5 1660.5,807.5 1661.5,808.5 1662.5,804.5 1663.5,799.5 1664.5,797.5 1666.5,793.5 1667.5,792.5 1668.5,786.5 1669.5,775.5 1670.5,768.5 1671.5,766.5 1672.5,764.5 1673.5,760.5 1674.5,766.5 1675.5,758.5 1677.5,761.5 1678.5,763.5 1679.5,757.5 1680.5,762.5 1681.5,756.5 1682.5,762.5 1683.5,758.5 1684.5,760.5 1685.5,763.5 1687.5,764.5 1688.5,766.5 1689.5,764.5 1690.5,765.5 1691.5,765.5 1692.5,768.5 1693.5,766.5 1694.5,771.5 1695.5,782.5 1697.5,786.5 1698.5,786.5 1699.5,779.5 1700.5,779.5 1701.5,789.5 1702.5,783.5 1703.5,783.5 1704.5,787.5 1705.5,789.5 1706.5,783.5 1708.5,793.5 1709.5,786.5 1710.5,798.5 1711.5,795.5 1712.5,798.5 1713.5,807.5 1714.5,801.5 1715.5,814.5 1716.5,811.5 1718.5,814.5 1719.5,809.5 1720.5,820.5 1721.5,812.5 1722.5,827.5 1723.5,837.5 1724.5,834.5 1725.5,839.5 1726.5,833.5 1728.5,834.5 1729.5,837.5 1730.5,841.5 1731.5,839.5 1732.5,841.5" fill="none" stroke="#00ff00" stroke-width="1" shape-rendering="crispEdges"/><polyline points="142.5,764.5 144.5,758.5 145.5,761.5 146.5,753.5 147.5,753.5 148.5,761.5 149.5,761.5 150.5,761.5 151.5,761.5 152.5,753.5 154.5,761.5 155.5,753.5 156.5,758.5 157.5,753.5 158.5,753.5 159.5,753.5 160.5,753.5 161.5,753.5 162.5,753.5 164.5,750.5 165.5,753.5 166.5,753.5 167.5,753.5 168.5,753.5 169.5,747.5 170.5,766.5 171.5,766.5 172.5,766.5 174.5,758.5 175.5,758.5 176.5,753.5 177.5,761.5 178.5,761.5 179.5,753.5 180.5,753.5 181.5,753.5 182.5,761.5 183.5,761.5 185.5,753.5 186.5,758.5 187.5,753.5 188.5,753.5 189.5,747.5 190.5,747.5 191.5,761.5 192.5,764.5 193.5,764.5 195.5,758.5 196.5,758.5 197.5,750.5 198.5,750.5 199.5,744.5 200.5,750.5 201.5,741.5 202.5,750.5 203.5,744.5 205.5,744.5 206.5,750.5 207.5,741.5 208.5,750.5 209.5,750.5 210.5,747.5 211.5,747.5 212.5,750.5 213.5,741.5 214.5,750.5 216.5,750.5 217.5,755.5 218.5,750.5 219.5,758.5 220.5,758.5 221.5,750.5 222.5,739.5 223.5,750.5 224.5,744.5 226.5,750.5 227.5,741.5 228.5,741.5 229.5,750.5 230.5,750.5 231.5,758.5 232.5,758.5 233.5,750.5 234.5,750.5 236.5,744.5 237.5,741.5 238.5,750.5 239.5,741.5 240.5,747.5 241.5,747.5 242.5,739.5 243.5,739.5 244.5,739.5 246.5,744.5 247.5,730.5 248.5,730.5 249.5,733.5 250.5,730.5 251.5,744.5 252.5,730.5 253.5,730.5 254.5,730.5 255.5,736.5 257.5,730.5 258.5,730.5 259.5,733.5 260.5,730.5 261.5,730.5 262.5,730.5 263.5,730.5 264.5,736.5 265.5,730.5 267.5,730.5 268.5,722.5 269.5,722.5 270.5,730.5 271.5,739.5 272.5,739.5 273.5,730.5 274.5,730.5 275.5,736.5 277.5,730.5 278.5,730.5 279.5,730.5 280.5,739.5 281.5,730.5 282.5,733.5 283.5,730.5 284.5,730.5 285.5,733.5 286.5,730.5 288.5,739.5 289.5,725.5 290.5,728.5 291.5,728.5 292.5,722.5 293.5,728.5 294.5,728.5 295.5,722.5 296.5,730.5 298.5,722.5 299.5,725.5 300.5,722.5 301.5,722.5 302.5,728.5 303.5,728.5 304.5,722.5 305.5,728.5 306.5,719.5 308.5,717.5 309.5,714.5 310.5,714.5 311.5,722.5 312.5,714.5 313.5,722.5 314.5,714.5 315.5,714.5 316.5,714.5 318.5,722.5 319.5,714.5 320.5,719.5 321.5,719.5 322.5,714.5 323.5,722.5 324.5,714.5 325.5,722.5 326.5,714.5 327.5,717.5 329.5,714.5 330.5,714.5 331.5,714.5 332.5,705.5 333.5,705.5 334.5,717.5 335.5,728.5 336.5,717.5 337.5,714.5 339.5,714.5 340.5,725.5 341.5,722.5 342.5,725.5 343.5,730.5 344.5,725.5 345.5,725.5 346.5,719.5 347.5,725.5 349.5,725.5 350.5,725.5 351.5,725.5 352.5,714.5 353.5,725.5 354.5,725.5 355.5,725.5 356.5,717.5 357.5,725.5 358.5,714.5 360.5,725.5 361.5,725.5 362.5,725.5 363.5,722.5 364.5,722.5 365.5,717.5 366.5,711.5 367.5,717.5 368.5,728.5 370.5,728.5 371.5,717.5 372.5,725.5 373.5,717.5 374.5,717.5 375.5,717.5 376.5,722.5 377.5,722.5 378.5,736.5 380.5,736.5 381.5,736.5 382.5,730.5 383.5,730.5 384.5,736.5 385.5,733.5 386.5,736.5 387.5,736.5 388.5,733.5 390.5,736.5 391.5,739.5 392.5,736.5 393.5,739.5 394.5,736.5 395.5,736.5 396.5,733.5 397.5,736.5 398.5,733.5 399.5,736.5 401.5,736.5 402.5,736.5 403.5,730.5 404.5,730.5 405.5,730.5 406.5,730.5 407.5,730.5 408.5,736.5 409.5,736.5 411.5,741.5 412.5,739.5 413.5,739.5 414.5,739.5 415.5,741.5 416.5,739.5 417.5,739.5 418.5,744.5 419.5,744.5 421.5,739.5 422.5,739.5 423.5,725.5 424.5,736.5 425.5,736.5 426.5,736.5 427.5,730.5 428.5,736.5 429.5,730.5 430.5,730.5 432.5,741.5 433.5,730.5 434.5,733.5 435.5,730.5 436.5,730.5 437.5,736.5 438.5,736.5 439.5,730.5 440.5,730.5 442.5,730.5 443.5,730.5 444.5,739.5 445.5,730.5 446.5,728.5 447.5,730.5 448.5,730.5 449.5,730.5 450.5,730.5 452.5,728.5 453.5,728.5 454.5,730.5 455.5,733.5 456.5,733.5 457.5,730.5 458.5,730.5 459.5,736.5 460.5,730.5 461.5,730.5 463.5,733.5 464.5,730.5 465.5,739.5 466.5,717.5 467.5,717.5 468.5,717.5 469.5,719.5 470.5,725.5 471.5,725.5 473.5,725.5 474.5,736.5 475.5,725.5 476.5,725.5 477.5,719.5 478.5,719.5 479.5,725.5 480.5,725.5 481.5,719.5 483.5,725.5 484.5,725.5 485.5,725.5 486.5,725.5 487.5,717.5 488.5,725.5 489.5,714.5 490.5,714.5 491.5,725.5 493.5,725.5 494.5,719.5 495.5,719.5 496.5,725.5 497.5,725.5 498.5,722.5 499.5,717.5 500.5,717.5 501.5,717.5 502.5,717.5 504.5,722.5 505.5,714.5 506.5,714.5 507.5,722.5 508.5,722.5 509.5,722.5 510.5,717.5 511.5,722.5 512.5,722.5 514.5,722.5 515.5,722.5 516.5,714.5 517.5,722.5 518.5,722.5 519.5,722.5 520.5,722.5 521.5,717.5 522.5,730.5 524.5,736.5 525.5,736.5 526.5,730.5 527.5,730.5 528.5,725.5 529.5,730.5 530.5,730.5 531.5,730.5 532.5,739.5 533.5,730.5 535.5,730.5 536.5,725.5 537.5,730.5 538.5,730.5 539.5,728.5 540.5,730.5 541.5,730.5 542.5,730.5 543.5,730.5 545.5,728.5 546.5,725.5 547.5,725.5 548.5,725.5 549.5,725.5 550.5,728.5 551.5,730.5 552.5,730.5 553.5,730.5 555.5,733.5 556.5,725.5 557.5,725.5 558.5,733.5 559.5,725.5 560.5,725.5 561.5,730.5 562.5,730.5 563.5,725.5 565.5,728.5 566.5,728.5 567.5,725.5 568.5,725.5 569.5,725.5 570.5,730.5 571.5,730.5 572.5,725.5 573.5,725.5 574.5,725.5 576.5,725.5 577.5,730.5 578.5,730.5 579.5,725.5 580.5,728.5 581.5,730.5 582.5,725.5 583.5,730.5 584.5,733.5 586.5,733.5 587.5,730.5 588.5,736.5 589.5,730.5 590.5,736.5 591.5,730.5 592.5,733.5 593.5,730.5 594.5,733.5 596.5,730.5 597.5,736.5 598.5,730.5 599.5,736.5 600.5,736.5 601.5,730.5 602.5,730.5 603.5,736.5 604.5,736.5 605.5,739.5 607.5,739.5 608.5,744.5 609.5,744.5 610.5,750.5 611.5,750.5 612.5,744.5 613.5,744.5 614.5,744.5 615.5,736.5 617.5,739.5 618.5,753.5 619.5,739.5 620.5,739.5 621.5,739.5 622.5,739.5 623.5,747.5 624.5,739.5 625.5,747.5 627.5,747.5 628.5,744.5 629.5,744.5 630.5,744.5 631.5,739.5 632.5,744.5 633.5,744.5 634.5,744.5 635.5,744.5 637.5,736.5 638.5,744.5 639.5,741.5 640.5,744.5 641.5,736.5 642.5,744.5 643.5,736.5 644.5,744.5 645.5,744.5 646.5,744.5 648.5,736.5 649.5,744.5 650.5,736.5 651.5,736.5 652.5,744.5 653.5,744.5 654.5,744.5 655.5,744.5 656.5,733.5 658.5,730.5 659.5,730.5 660.5,730.5 661.5,730.5 662.5,733.5 663.5,733.5 664.5,730.5 665.5,730.5 666.5,730.5 668.5,730.5 669.5,722.5 670.5,722.5 671.5,736.5 672.5,741.5 673.5,741.5 674.5,736.5 675.5,747.5 676.5,736.5 677.5,741.5 679.5,741.5 680.5,736.5 681.5,736.5 682.5,736.5 683.5,739.5 684.5,739.5 685.5,736.5 686.5,736.5 687.5,741.5 689.5,736.5 690.5,736.5 691.5,739.5 692.5,736.5 693.5,736.5 694.5,739.5 695.5,739.5 696.5,739.5 697.5,739.5 699.5,739.5 700.5,741.5 701.5,741.5 702.5,750.5 703.5,755.5 704.5,747.5 705.5,736.5 706.5,747.5 707.5,747.5 709.5,747.5 710.5,747.5 711.5,744.5 712.5,747.5 713.5,739.5 714.5,747.5 715.5,739.5 716.5,747.5 717.5,730.5 718.5,747.5 720.5,747.5 721.5,741.5 722.5,747.5 723.5,741.5 724.5,747.5 725.5,747.5 726.5,747.5 727.5,747.5 728.5,741.5 730.5,747.5 731.5,747.5 732.5,755.5 733.5,747.5 734.5,747.5 735.5,739.5 736.5,739.5 737.5,750.5 738.5,750.5 740.5,744.5 741.5,750.5 742.5,753.5 743.5,750.5 744.5,747.5 745.5,750.5 746.5,741.5 747.5,750.5 748.5,744.5 749.5,744.5 751.5,750.5 752.5,750.5 753.5,750.5 754.5,750.5 755.5,747.5 756.5,750.5 757.5,744.5 758.5,750.5 759.5,750.5 761.5,750.5 762.5,750.5 763.5,744.5 764.5,750.5 765.5,750.5 766.5,750.5 767.5,747.5 768.5,747.5 769.5,741.5 771.5,750.5 772.5,741.5 773.5,741.5 774.5,750.5 775.5,741.5 776.5,741.5 777.5,736.5 778.5,741.5 779.5,744.5 780.5,741.5 782.5,741.5 783.5,750.5 784.5,741.5 785.5,750.5 786.5,741.5 787.5,747.5 788.5,741.5 789.5,750.5 790.5,741.5 792.5,747.5 793.5,747.5 794.5,753.5 795.5,753.5 796.5,744.5 797.5,758.5 798.5,758.5 799.5,758.5 800.5,753.5 802.5,753.5 803.5,766.5 804.5,761.5 805.5,761.5 806.5,775.5 807.5,769.5 808.5,775.5 809.5,761.5 810.5,775.5 812.5,772.5 813.5,772.5 814.5,775.5 815.5,775.5 816.5,766.5 817.5,766.5 818.5,775.5 819.5,775.5 820.5,775.5 821.5,775.5 823.5,769.5 824.5,769.5 825.5,775.5 826.5,764.5 827.5,764.5 828.5,775.5 829.5,772.5 830.5,775.5 831.5,769.5 833.5,775.5 834.5,766.5 835.5,775.5 836.5,775.5 837.5,772.5 838.5,772.5 839.5,775.5 840.5,775.5 841.5,769.5 843.5,775.5 844.5,775.5 845.5,775.5 846.5,772.5 847.5,772.5 848.5,775.5 849.5,775.5 850.5,775.5 851.5,775.5 852.5,766.5 854.5,766.5 855.5,775.5 856.5,775.5 857.5,769.5 858.5,766.5 859.5,764.5 860.5,775.5 861.5,775.5 862.5,775.5 864.5,775.5 865.5,783.5 866.5,780.5 867.5,775.5 868.5,775.5 869.5,772.5 870.5,777.5 871.5,777.5 872.5,772.5 874.5,780.5 875.5,772.5 876.5,772.5 877.5,780.5 878.5,772.5 879.5,775.5 880.5,772.5 881.5,772.5 882.5,786.5 884.5,786.5 885.5,769.5 886.5,769.5 887.5,772.5 888.5,766.5 889.5,769.5 890.5,769.5 891.5,766.5 892.5,766.5 893.5,772.5 895.5,772.5 896.5,766.5 897.5,769.5 898.5,769.5 899.5,766.5 900.5,772.5 901.5,766.5 902.5,769.5 903.5,766.5 905.5,766.5 906.5,772.5 907.5,766.5 908.5,769.5 909.5,766.5 910.5,766.5 911.5,775.5 912.5,766.5 913.5,766.5 915.5,766.5 916.5,766.5 917.5,764.5 918.5,775.5 919.5,786.5 920.5,775.5 921.5,775.5 922.5,769.5 923.5,775.5 924.5,769.5 926.5,775.5 927.5,772.5 928.5,775.5 929.5,772.5 930.5,775.5 931.5,775.5 932.5,775.5 933.5,775.5 934.5,766.5 936.5,775.5 937.5,783.5 938.5,783.5 939.5,780.5 940.5,780.5 941.5,780.5 942.5,780.5 943.5,777.5 944.5,777.5 946.5,783.5 947.5,783.5 948.5,780.5 949.5,783.5 950.5,783.5 951.5,791.5 952.5,783.5 953.5,783.5 954.5,783.5 956.5,783.5 957.5,789.5 958.5,783.5 959.5,783.5 960.5,791.5 961.5,783.5 962.5,791.5 963.5,791.5 964.5,783.5 965.5,783.5 967.5,786.5 968.5,786.5 969.5,783.5 970.5,794.5 971.5,783.5 972.5,783.5 973.5,789.5 974.5,783.5 975.5,791.5 977.5,791.5 978.5,783.5 979.5,783.5 980.5,783.5 981.5,783.5 982.5,786.5 983.5,783.5 984.5,783.5 985.5,791.5 987.5,791.5 988.5,783.5 989.5,786.5 990.5,786.5 991.5,783.5 992.5,786.5 993.5,783.5 994.5,791.5 995.5,791.5 996.5,783.5 998.5,786.5 999.5,786.5 1000.5,783.5 1001.5,786.5 1002.5,791.5 1003.5,783.5 1004.5,791.5 1005.5,789.5 1006.5,791.5 1008.5,791.5 1009.5,791.5 1010.5,791.5 1011.5,789.5 1012.5,791.5 1013.5,783.5 1014.5,783.5 1015.5,791.5 1016.5,786.5 1018.5,786.5 1019.5,791.5 1020.5,783.5 1021.5,783.5 1022.5,791.5 1023.5,786.5 1024.5,786.5 1025.5,791.5 1026.5,791.5 1028.5,789.5 1029.5,789.5 1030.5,791.5 1031.5,786.5 1032.5,791.5 1033.5,791.5 1034.5,786.5 1035.5,791.5 1036.5,783.5 1037.5,791.5 1039.5,791.5 1040.5,786.5 1041.5,791.5 1042.5,789.5 1043.5,789.5 1044.5,791.5 1045.5,783.5 1046.5,783.5 1047.5,791.5 1049.5,789.5 1050.5,791.5 1051.5,791.5 1052.5,791.5 1053.5,789.5 1054.5,791.5 1055.5,789.5 1056.5,789.5 1057.5,791.5 1059.5,791.5 1060.5,791.5 1061.5,789.5 1062.5,789.5 1063.5,789.5 1064.5,789.5 1065.5,789.5 1066.5,777.5 1067.5,777.5 1068.5,789.5 1070.5,780.5 1071.5,789.5 1072.5,789.5 1073.5,786.5 1074.5,789.5 1075.5,780.5 1076.5,780.5 1077.5,780.5 1078.5,786.5 1080.5,780.5 1081.5,780.5 1082.5,780.5 1083.5,786.5 1084.5,780.5 1085.5,777.5 1086.5,780.5 1087.5,775.5 1088.5,775.5 1090.5,789.5 1091.5,786.5 1092.5,791.5 1093.5,800.5 1094.5,797.5 1095.5,797.5 1096.5,794.5 1097.5,794.5 1098.5,797.5 1099.5,794.5 1101.5,797.5 1102.5,791.5 1103.5,797.5 1104.5,794.5 1105.5,797.5 1106.5,794.5 1107.5,794.5 1108.5,789.5 1109.5,789.5 1111.5,794.5 1112.5,789.5 1113.5,789.5 1114.5,794.5 1115.5,794.5 1116.5,789.5 1117.5,789.5 1118.5,789.5 1119.5,797.5 1121.5,797.5 1122.5,789.5 1123.5,802.5 1124.5,802.5 1125.5,789.5 1126.5,791.5 1127.5,791.5 1128.5,789.5 1129.5,791.5 1131.5,791.5 1132.5,789.5 1133.5,789.5 1134.5,789.5 1135.5,794.5 1136.5,789.5 1137.5,797.5 1138.5,789.5 1139.5,789.5 1140.5,789.5 1142.5,789.5 1143.5,794.5 1144.5,783.5 1145.5,783.5 1146.5,786.5 1147.5,791.5 1148.5,789.5 1149.5,791.5 1150.5,791.5 1152.5,789.5 1153.5,789.5 1154.5,791.5 1155.5,791.5 1156.5,786.5 1157.5,786.5 1158.5,791.5 1159.5,786.5 1160.5,786.5 1162.5,791.5 1163.5,791.5 1164.5,791.5 1165.5,791.5 1166.5,780.5 1167.5,791.5 1168.5,789.5 1169.5,789.5 1170.5,791.5 1171.5,791.5 1173.5,783.5 1174.5,791.5 1175.5,783.5 1176.5,791.5 1177.5,783.5 1178.5,791.5 1179.5,789.5 1180.5,783.5 1181.5,789.5 1183.5,789.5 1184.5,783.5 1185.5,783.5 1186.5,783.5 1187.5,789.5 1188.5,789.5 1189.5,797.5 1190.5,789.5 1191.5,797.5 1193.5,789.5 1194.5,789.5 1195.5,789.5 1196.5,794.5 1197.5,797.5 1198.5,791.5 1199.5,791.5 1200.5,797.5 1201.5,797.5 1203.5,797.5 1204.5,791.5 1205.5,797.5 1206.5,797.5 1207.5,797.5 1208.5,797.5 1209.5,805.5 1210.5,797.5 1211.5,797.5 1212.5,783.5 1214.5,786.5 1215.5,786.5 1216.5,789.5 1217.5,780.5 1218.5,789.5 1219.5,789.5 1220.5,780.5 1221.5,780.5 1222.5,789.5 1224.5,789.5 1225.5,780.5 1226.5,780.5 1227.5,789.5 1228.5,789.5 1229.5,791.5 1230.5,791.5 1231.5,791.5 1232.5,797.5 1234.5,791.5 1235.5,797.5 1236.5,791.5 1237.5,797.5 1238.5,791.5 1239.5,791.5 1240.5,797.5 1241.5,791.5 1242.5,783.5 1243.5,783.5 1245.5,789.5 1246.5,791.5 1247.5,783.5 1248.5,783.5 1249.5,791.5 1250.5,783.5 1251.5,789.5 1252.5,783.5 1253.5,791.5 1255.5,783.5 1256.5,783.5 1257.5,789.5 1258.5,783.5 1259.5,791.5 1260.5,783.5 1261.5,791.5 1262.5,791.5 1263.5,797.5 1265.5,791.5 1266.5,791.5 1267.5,797.5 1268.5,797.5 1269.5,797.5 1270.5,791.5 1271.5,791.5 1272.5,797.5 1273.5,797.5 1275.5,797.5 1276.5,797.5 1277.5,789.5 1278.5,794.5 1279.5,794.5 1280.5,789.5 1281.5,789.5 1282.5,791.5 1283.5,791.5 1284.5,791.5 1286.5,783.5 1287.5,791.5 1288.5,791.5 1289.5,791.5 1290.5,783.5 1291.5,783.5 1292.5,800.5 1293.5,800.5 1294.5,800.5 1296.5,800.5 1297.5,797.5 1298.5,797.5 1299.5,802.5 1300.5,791.5 1301.5,791.5 1302.5,802.5 1303.5,794.5 1304.5,794.5 1306.5,802.5 1307.5,802.5 1308.5,794.5 1309.5,802.5 1310.5,802.5 1311.5,802.5 1312.5,802.5 1313.5,797.5 1314.5,797.5 1315.5,794.5 1317.5,797.5 1318.5,791.5 1319.5,797.5 1320.5,791.5 1321.5,791.5 1322.5,797.5 1323.5,805.5 1324.5,797.5 1325.5,789.5 1327.5,797.5 1328.5,789.5 1329.5,797.5 1330.5,783.5 1331.5,797.5 1332.5,797.5 1333.5,797.5 1334.5,789.5 1335.5,797.5 1337.5,789.5 1338.5,797.5 1339.5,794.5 1340.5,797.5 1341.5,791.5 1342.5,791.5 1343.5,797.5 1344.5,797.5 1345.5,797.5 1347.5,808.5 1348.5,800.5 1349.5,800.5 1350.5,797.5 1351.5,797.5 1352.5,800.5 1353.5,794.5 1354.5,800.5 1355.5,791.5 1356.5,800.5 1358.5,794.5 1359.5,800.5 1360.5,791.5 1361.5,800.5 1362.5,800.5 1363.5,791.5 1364.5,800.5 1365.5,791.5 1366.5,797.5 1368.5,791.5 1369.5,791.5 1370.5,794.5 1371.5,789.5 1372.5,789.5 1373.5,794.5 1374.5,786.5 1375.5,794.5 1376.5,786.5 1378.5,794.5 1379.5,794.5 1380.5,791.5 1381.5,794.5 1382.5,789.5 1383.5,789.5 1384.5,794.5 1385.5,786.5 1386.5,783.5 1387.5,769.5 1389.5,769.5 1390.5,791.5 1391.5,797.5 1392.5,791.5 1393.5,794.5 1394.5,794.5 1395.5,791.5 1396.5,794.5 1397.5,791.5 1399.5,791.5 1400.5,794.5 1401.5,791.5 1402.5,791.5 1403.5,791.5 1404.5,791.5 1405.5,780.5 1406.5,791.5 1407.5,791.5 1409.5,791.5 1410.5,794.5 1411.5,791.5 1412.5,797.5 1413.5,802.5 1414.5,813.5 1415.5,802.5 1416.5,789.5 1417.5,805.5 1418.5,797.5 1420.5,797.5 1421.5,808.5 1422.5,808.5 1423.5,805.5 1424.5,805.5 1425.5,808.5 1426.5,800.5 1427.5,808.5 1428.5,808.5 1430.5,800.5 1431.5,805.5 1432.5,805.5 1433.5,802.5 1434.5,800.5 1435.5,805.5 1436.5,800.5 1437.5,797.5 1438.5,789.5 1440.5,797.5 1441.5,791.5 1442.5,791.5 1443.5,789.5 1444.5,791.5 1445.5,791.5 1446.5,791.5 1447.5,791.5 1448.5,794.5 1450.5,800.5 1451.5,802.5 1452.5,800.5 1453.5,802.5 1454.5,802.5 1455.5,800.5 1456.5,800.5 1457.5,800.5 1458.5,808.5 1459.5,800.5 1461.5,791.5 1462.5,800.5 1463.5,808.5 1464.5,800.5 1465.5,808.5 1466.5,800.5 1467.5,800.5 1468.5,805.5 1469.5,800.5 1471.5,800.5 1472.5,791.5 1473.5,800.5 1474.5,800.5 1475.5,800.5 1476.5,805.5 1477.5,800.5 1478.5,800.5 1479.5,813.5 1481.5,813.5 1482.5,797.5 1483.5,802.5 1484.5,802.5 1485.5,802.5 1486.5,802.5 1487.5,802.5 1488.5,802.5 1489.5,794.5 1490.5,794.5 1492.5,802.5 1493.5,802.5 1494.5,794.5 1495.5,802.5 1496.5,802.5 1497.5,794.5 1498.5,802.5 1499.5,802.5 1500.5,808.5 1502.5,808.5 1503.5,802.5 1504.5,794.5 1505.5,802.5 1506.5,794.5 1507.5,794.5 1508.5,802.5 1509.5,802.5 1510.5,800.5 1512.5,800.5 1513.5,802.5 1514.5,802.5 1515.5,794.5 1516.5,802.5 1517.5,794.5 1518.5,794.5 1519.5,802.5 1520.5,797.5 1522.5,797.5 1523.5,802.5 1524.5,802.5 1525.5,802.5 1526.5,808.5 1527.5,802.5 1528.5,800.5 1529.5,802.5 1530.5,802.5 1531.5,802.5 1533.5,794.5 1534.5,794.5 1535.5,800.5 1536.5,797.5 1537.5,791.5 1538.5,791.5 1539.5,797.5 1540.5,791.5 1541.5,791.5 1543.5,791.5 1544.5,791.5 1545.5,797.5 1546.5,791.5 1547.5,791.5 1548.5,797.5 1549.5,791.5 1550.5,794.5 1551.5,791.5 1553.5,794.5 1554.5,791.5 1555.5,791.5 1556.5,791.5 1557.5,800.5 1558.5,800.5 1559.5,791.5 1560.5,791.5 1561.5,791.5 1562.5,800.5 1564.5,800.5 1565.5,791.5 1566.5,800.5 1567.5,794.5 1568.5,800.5 1569.5,794.5 1570.5,797.5 1571.5,797.5 1572.5,791.5 1574.5,797.5 1575.5,797.5 1576.5,794.5 1577.5,797.5 1578.5,805.5 1579.5,797.5 1580.5,797.5 1581.5,797.5 1582.5,797.5 1584.5,783.5 1585.5,789.5 1586.5,780.5 1587.5,789.5 1588.5,789.5 1589.5,797.5 1590.5,797.5 1591.5,789.5 1592.5,797.5 1594.5,789.5 1595.5,789.5 1596.5,789.5 1597.5,791.5 1598.5,786.5 1599.5,794.5 1600.5,794.5 1601.5,786.5 1602.5,786.5 1603.5,791.5 1605.5,786.5 1606.5,791.5 1607.5,783.5 1608.5,777.5 1609.5,777.5 1610.5,791.5 1611.5,786.5 1612.5,789.5 1613.5,783.5 1615.5,789.5 1616.5,780.5 1617.5,786.5 1618.5,777.5 1619.5,786.5 1620.5,791.5 1621.5,786.5 1622.5,786.5 1623.5,780.5 1625.5,780.5 1626.5,786.5 1627.5,775.5 1628.5,775.5 1629.5,786.5 1630.5,789.5 1631.5,789.5 1632.5,786.5 1633.5,780.5 1634.5,786.5 1636.5,786.5 1637.5,783.5 1638.5,786.5 1639.5,786.5 1640.5,786.5 1641.5,783.5 1642.5,786.5 1643.5,786.5 1644.5,791.5 1646.5,791.5 1647.5,786.5 1648.5,780.5 1649.5,786.5 1650.5,786.5 1651.5,783.5 1652.5,786.5 1653.5,786.5 1654.5,777.5 1656.5,786.5 1657.5,786.5 1658.5,786.5 1659.5,777.5 1660.5,786.5 1661.5,786.5 1662.5,777.5 1663.5,789.5 1664.5,786.5 1666.5,786.5 1667.5,789.5 1668.5,786.5 1669.5,786.5 1670.5,780.5 1671.5,780.5 1672.5,791.5 1673.5,780.5 1674.5,783.5 1675.5,780.5 1677.5,789.5 1678.5,780.5 1679.5,780.5 1680.5,772.5 1681.5,772.5 1682.5,780.5 1683.5,786.5 1684.5,786.5 1685.5,789.5 1687.5,789.5 1688.5,791.5 1689.5,789.5 1690.5,783.5 1691.5,783.5 1692.5,789.5 1693.5,789.5 1694.5,789.5 1695.5,797.5 1697.5,797.5 1698.5,789.5 1699.5,780.5 1700.5,780.5 1701.5,786.5 1702.5,777.5 1703.5,777.5 1704.5,783.5 1705.5,783.5 1706.5,783.5 1708.5,769.5 1709.5,775.5 1710.5,777.5 1711.5,777.5 1712.5,775.5 1713.5,775.5 1714.5,775.5 1715.5,764.5 1716.5,764.5 1718.5,775.5 1719.5,775.5 1720.5,777.5 1721.5,775.5 1722.5,783.5 1723.5,775.5 1724.5,775.5 1725.5,777.5 1726.5,775.5 1728.5,786.5 1729.5,786.5 1730.5,775.5 1731.5,775.5 1732.5,775.5" fill="none" stroke="#ff00ff" stroke-width="1" shape-rendering="crispEdges"/></g>
<g shape-rendering="crispEdges"><rect x="253" y="51" width="64" height="12" fill="#000"/><rect x="251" y="49" width="62" height="10" fill="#00ff00"/><rect x="690" y="51" width="64" height="12" fill="#000"/><rect x="688" y="49" width="62" height="10" fill="#00ff00"/><rect x="1127" y="51" width="64" height="12" fill="#000"/><rect x="1125" y="49" width="62" height="10" fill="#ff00ff"/><rect x="1564" y="51" width="64" height="12" fill="#000"/><rect x="1562" y="49" width="62" height="10" fill="#ff00ff"/></g>
<g fill="#000"><text x="932.5" y="26" font-family="Liberation Serif" font-size="33" text-anchor="middle" >RealPower<tspan dy="3">_</tspan><tspan dy="-3">VoltageTDD</tspan></text><text x="280.5" y="86" font-family="Liberation Sans" font-size="21.8" text-anchor="middle" >F1: Ave Real_Power 1</text><text x="717.5" y="86" font-family="Liberation Sans" font-size="21.8" text-anchor="middle" >F1: Ave Real_Power 2</text><text x="1154.5" y="86" font-family="Liberation Sans" font-size="21.8" text-anchor="middle" >F1: Ave Vthd 1</text><text x="1591.5" y="86" font-family="Liberation Sans" font-size="21.8" text-anchor="middle" >F1: Ave Vthd 2</text><text x="47" y="478.7" font-family="Liberation Sans" font-size="25" text-anchor="end" >0</text><text x="47" y="416.37" font-family="Liberation Sans" font-size="25" text-anchor="end" >1</text><text x="47" y="354.04" font-family="Liberation Sans" font-size="25" text-anchor="end" >2</text><text x="47" y="291.71" font-family="Liberation Sans" font-size="25" text-anchor="end" >3</text><text x="47" y="229.38" font-family="Liberation Sans" font-size="25" text-anchor="end" >4</text><text x="47" y="167.05" font-family="Liberation Sans" font-size="25" text-anchor="end" >5</text><text x="47" y="104.71999999999998" font-family="Liberation Sans" font-size="25" text-anchor="end" >6</text><text x="47" y="871.7" font-family="Liberation Sans" font-size="25" text-anchor="end" >0</text><text x="47" y="815.2" font-family="Liberation Sans" font-size="25" text-anchor="end" >1</text><text x="47" y="758.7" font-family="Liberation Sans" font-size="25" text-anchor="end" >2</text><text x="47" y="702.2" font-family="Liberation Sans" font-size="25" text-anchor="end" >3</text><text x="47" y="645.7" font-family="Liberation Sans" font-size="25" text-anchor="end" >4</text><text x="47" y="589.2" font-family="Liberation Sans" font-size="25" text-anchor="end" >5</text><text x="47" y="532.7" font-family="Liberation Sans" font-size="25" text-anchor="end" >6</text><text x="149.5" y="923" font-family="Liberation Sans" font-size="25" text-anchor="middle" >14 Tue</text><text x="348.874" y="923" font-family="Liberation Sans" font-size="25" text-anchor="middle" >3AM</text><text x="548.248" y="923" font-family="Liberation Sans" font-size="25" text-anchor="middle" >6AM</text><text x="747.622" y="923" font-family="Liberation Sans" font-size="25" text-anchor="middle" >9AM</text><text x="946.996" y="923" font-family="Liberation Sans" font-size="25" text-anchor="middle" >12PM</text><text x="1146.37" y="923" font-family="Liberation Sans" font-size="25" text-anchor="middle" >3PM</text><text x="1345.744" y="923" font-family="Liberation Sans" font-size="25" text-anchor="middle" >6PM</text><text x="1545.118" y="923" font-family="Liberation Sans" font-size="25" text-anchor="middle" >9PM</text><text x="1744.492" y="923" font-family="Liberation Sans" font-size="25" text-anchor="middle" >15 Wed</text><text transform="translate(26,292) rotate(-90)" font-family="Liberation Sans" font-size="26" text-anchor="middle">Ch1 kW</text><text transform="translate(26,686) rotate(-90)" font-family="Liberation Sans" font-size="26" text-anchor="middle">Ch2 kW</text></g>
</svg>
</body></html>
